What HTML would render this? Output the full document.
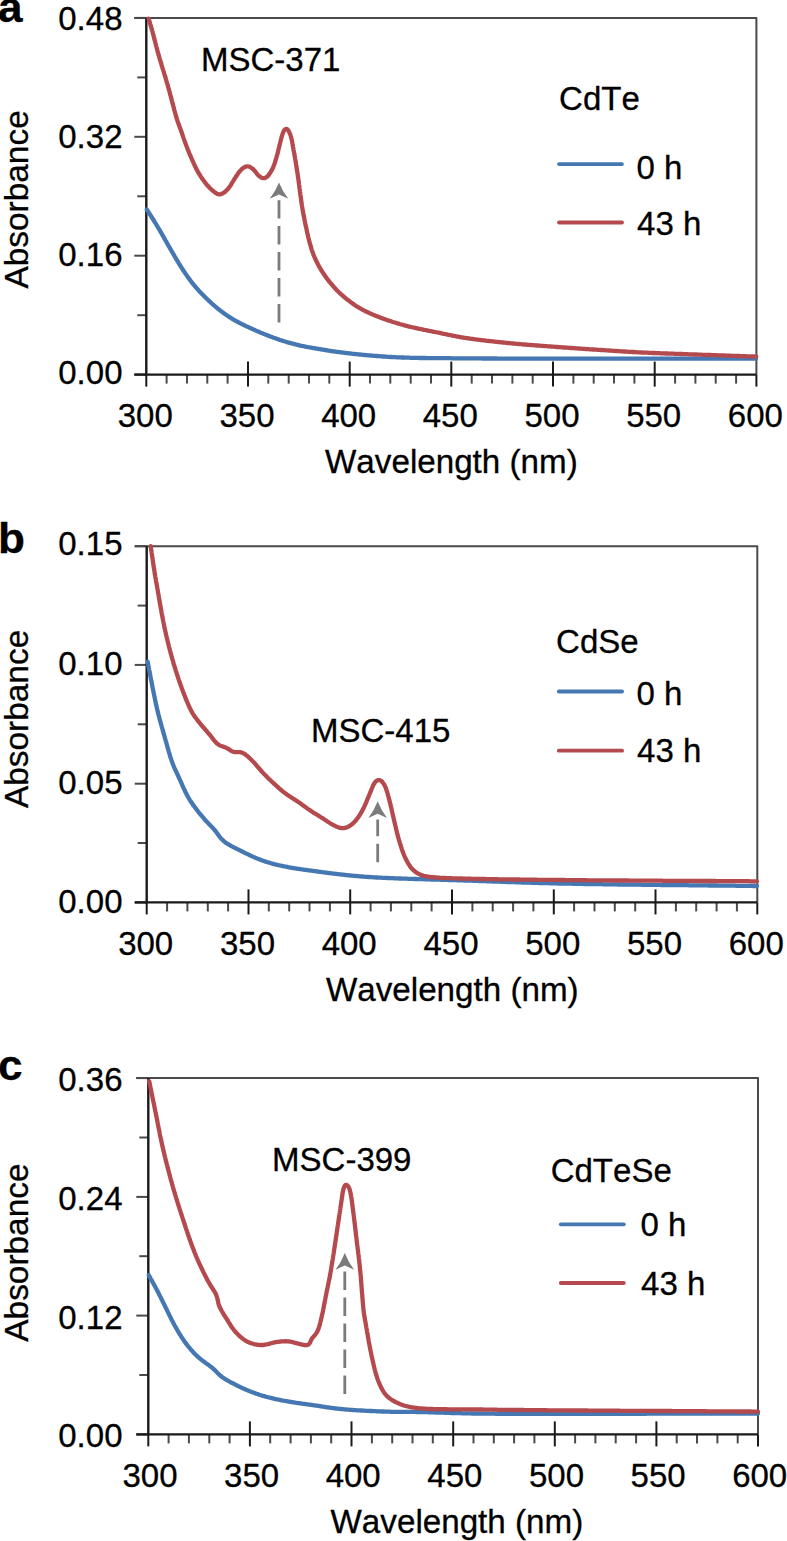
<!DOCTYPE html><html><head><meta charset="utf-8"><style>html,body{margin:0;padding:0;background:#fff;}svg{display:block;} text{stroke:#000;stroke-width:0.3px;}</style></head><body>
<svg width="787" height="1541" viewBox="0 0 787 1541">
<rect width="787" height="1541" fill="#fff"/>
<g font-family='"Liberation Sans", sans-serif' fill="#000" style="font-kerning:none">
<path d="M134.3,17.9 H756.4 V374.6" fill="none" stroke="#4a4a4a" stroke-width="2" stroke-linejoin="round"/>
<line x1="134.3" y1="17.9" x2="146.3" y2="17.9" stroke="#4a4a4a" stroke-width="2"/>
<line x1="137.3" y1="77.4" x2="146.3" y2="77.4" stroke="#4a4a4a" stroke-width="2"/>
<line x1="134.3" y1="136.8" x2="146.3" y2="136.8" stroke="#4a4a4a" stroke-width="2"/>
<line x1="137.3" y1="196.3" x2="146.3" y2="196.3" stroke="#4a4a4a" stroke-width="2"/>
<line x1="134.3" y1="255.7" x2="146.3" y2="255.7" stroke="#4a4a4a" stroke-width="2"/>
<line x1="137.3" y1="315.2" x2="146.3" y2="315.2" stroke="#4a4a4a" stroke-width="2"/>
<line x1="134.3" y1="374.6" x2="146.3" y2="374.6" stroke="#4a4a4a" stroke-width="2"/>
<line x1="146.3" y1="374.6" x2="146.3" y2="386.6" stroke="#1a1a1a" stroke-width="2"/>
<line x1="166.6" y1="374.6" x2="166.6" y2="383.6" stroke="#4a4a4a" stroke-width="2"/>
<line x1="187.0" y1="374.6" x2="187.0" y2="383.6" stroke="#4a4a4a" stroke-width="2"/>
<line x1="207.3" y1="374.6" x2="207.3" y2="383.6" stroke="#4a4a4a" stroke-width="2"/>
<line x1="227.6" y1="374.6" x2="227.6" y2="383.6" stroke="#4a4a4a" stroke-width="2"/>
<line x1="248.0" y1="361.6" x2="248.0" y2="386.6" stroke="#1a1a1a" stroke-width="2"/>
<line x1="268.3" y1="374.6" x2="268.3" y2="383.6" stroke="#4a4a4a" stroke-width="2"/>
<line x1="288.7" y1="374.6" x2="288.7" y2="383.6" stroke="#4a4a4a" stroke-width="2"/>
<line x1="309.0" y1="374.6" x2="309.0" y2="383.6" stroke="#4a4a4a" stroke-width="2"/>
<line x1="329.3" y1="374.6" x2="329.3" y2="383.6" stroke="#4a4a4a" stroke-width="2"/>
<line x1="349.7" y1="361.6" x2="349.7" y2="386.6" stroke="#1a1a1a" stroke-width="2"/>
<line x1="370.0" y1="374.6" x2="370.0" y2="383.6" stroke="#4a4a4a" stroke-width="2"/>
<line x1="390.3" y1="374.6" x2="390.3" y2="383.6" stroke="#4a4a4a" stroke-width="2"/>
<line x1="410.7" y1="374.6" x2="410.7" y2="383.6" stroke="#4a4a4a" stroke-width="2"/>
<line x1="431.0" y1="374.6" x2="431.0" y2="383.6" stroke="#4a4a4a" stroke-width="2"/>
<line x1="451.3" y1="361.6" x2="451.3" y2="386.6" stroke="#1a1a1a" stroke-width="2"/>
<line x1="471.7" y1="374.6" x2="471.7" y2="383.6" stroke="#4a4a4a" stroke-width="2"/>
<line x1="492.0" y1="374.6" x2="492.0" y2="383.6" stroke="#4a4a4a" stroke-width="2"/>
<line x1="512.4" y1="374.6" x2="512.4" y2="383.6" stroke="#4a4a4a" stroke-width="2"/>
<line x1="532.7" y1="374.6" x2="532.7" y2="383.6" stroke="#4a4a4a" stroke-width="2"/>
<line x1="553.0" y1="361.6" x2="553.0" y2="386.6" stroke="#1a1a1a" stroke-width="2"/>
<line x1="573.4" y1="374.6" x2="573.4" y2="383.6" stroke="#4a4a4a" stroke-width="2"/>
<line x1="593.7" y1="374.6" x2="593.7" y2="383.6" stroke="#4a4a4a" stroke-width="2"/>
<line x1="614.0" y1="374.6" x2="614.0" y2="383.6" stroke="#4a4a4a" stroke-width="2"/>
<line x1="634.4" y1="374.6" x2="634.4" y2="383.6" stroke="#4a4a4a" stroke-width="2"/>
<line x1="654.7" y1="361.6" x2="654.7" y2="386.6" stroke="#1a1a1a" stroke-width="2"/>
<line x1="675.1" y1="374.6" x2="675.1" y2="383.6" stroke="#4a4a4a" stroke-width="2"/>
<line x1="695.4" y1="374.6" x2="695.4" y2="383.6" stroke="#4a4a4a" stroke-width="2"/>
<line x1="715.7" y1="374.6" x2="715.7" y2="383.6" stroke="#4a4a4a" stroke-width="2"/>
<line x1="736.1" y1="374.6" x2="736.1" y2="383.6" stroke="#4a4a4a" stroke-width="2"/>
<line x1="756.4" y1="374.6" x2="756.4" y2="386.6" stroke="#1a1a1a" stroke-width="2"/>
<path d="M146.3,17.9 V374.6 H756.4" fill="none" stroke="#1a1a1a" stroke-width="2.4"/>
<line x1="134.3" y1="374.6" x2="146.3" y2="374.6" stroke="#1a1a1a" stroke-width="2.4"/>
<text x="122.5" y="29.9" font-size="33" text-anchor="end">0.48</text>
<text x="122.5" y="147.6" font-size="33" text-anchor="end">0.32</text>
<text x="122.5" y="265.9" font-size="33" text-anchor="end">0.16</text>
<text x="122.5" y="383.8" font-size="33" text-anchor="end">0.00</text>
<text x="145.3" y="427.1" font-size="33" text-anchor="middle">300</text>
<text x="247.0" y="427.1" font-size="33" text-anchor="middle">350</text>
<text x="348.7" y="427.1" font-size="33" text-anchor="middle">400</text>
<text x="450.3" y="427.1" font-size="33" text-anchor="middle">450</text>
<text x="552.0" y="427.1" font-size="33" text-anchor="middle">500</text>
<text x="653.7" y="427.1" font-size="33" text-anchor="middle">550</text>
<text x="755.4" y="427.1" font-size="33" text-anchor="middle">600</text>
<text x="451.4" y="473.4" font-size="33.2" text-anchor="middle">Wavelength (nm)</text>
<text x="0" y="0" font-size="33.4" text-anchor="middle" transform="translate(27.9,199.4) rotate(-90)">Absorbance</text>
<text x="0" y="0" font-size="42" font-weight="bold" transform="translate(-2.0,22.3) scale(1.05,1)">a</text>
<text x="559.1" y="110.2" font-size="33">CdTe</text>
<line x1="559.0" y1="164.1" x2="622.0" y2="164.1" stroke="#4577b3" stroke-width="3.8" stroke-linecap="round"/>
<line x1="559.0" y1="222.5" x2="622.0" y2="222.5" stroke="#b54a4e" stroke-width="3.8" stroke-linecap="round"/>
<text x="636.5" y="179.0" font-size="33">0 h</text>
<text x="637.1" y="234.8" font-size="33">43 h</text>
<text x="201.0" y="70.5" font-size="33">MSC-371</text>
<line x1="279.0" y1="322.6" x2="279.0" y2="200.3" stroke="#7b7b7b" stroke-width="2.8" stroke-dasharray="18.5 7.5"/>
<path d="M279.0,182.5 Q282.6,191.7 288.3,198.8 L279.0,194.5 L269.7,198.8 Q275.4,191.7 279.0,182.5 Z" fill="#7b7b7b"/>
<path d="M146.8,209.5L148.2,211.6L148.5,212.2L148.9,212.7L149.3,213.4L149.7,214.1L150.2,214.8L150.7,215.6L151.2,216.3L151.7,217.1L152.2,218.0L152.7,218.8L153.3,219.6L153.8,220.5L154.3,221.3L154.8,222.2L155.4,223.0L155.9,223.9L156.4,224.7L156.9,225.6L157.4,226.4L157.9,227.3L158.4,228.2L159.0,229.0L159.5,229.9L160.0,230.8L160.5,231.6L161.0,232.5L161.5,233.3L162.0,234.2L162.5,235.1L163.0,235.9L163.5,236.8L164.0,237.7L164.4,238.6L164.9,239.4L165.4,240.3L165.9,241.2L166.4,242.0L166.9,242.9L167.4,243.8L167.9,244.6L168.4,245.5L168.9,246.4L169.4,247.2L169.9,248.1L170.4,249.0L170.9,249.9L171.4,250.7L171.9,251.6L172.4,252.5L172.9,253.3L173.4,254.2L173.9,255.0L174.4,255.9L174.9,256.8L175.4,257.6L175.9,258.5L176.4,259.3L176.9,260.2L177.5,261.1L178.0,261.9L178.5,262.8L179.0,263.6L179.6,264.5L180.1,265.3L180.6,266.2L181.1,267.0L181.7,267.9L182.2,268.7L182.8,269.5L183.3,270.4L183.9,271.2L184.4,272.0L185.0,272.9L185.5,273.7L186.1,274.5L186.7,275.3L187.2,276.2L187.8,277.0L188.4,277.8L189.0,278.6L189.6,279.4L190.2,280.2L190.8,281.0L191.4,281.8L192.0,282.6L192.6,283.4L193.2,284.2L193.9,284.9L194.5,285.7L195.1,286.5L195.8,287.2L196.4,288.0L197.1,288.7L197.8,289.5L198.4,290.2L199.1,291.0L199.8,291.7L200.5,292.4L201.2,293.1L201.9,293.9L202.6,294.6L203.3,295.3L204.0,296.0L204.7,296.7L205.4,297.4L206.1,298.1L206.8,298.8L207.6,299.5L208.3,300.2L209.0,300.9L209.7,301.5L210.5,302.2L211.2,302.9L211.9,303.6L212.7,304.2L213.4,304.9L214.2,305.6L214.9,306.2L215.7,306.9L216.5,307.5L217.2,308.1L218.0,308.8L218.8,309.4L219.6,310.0L220.4,310.6L221.1,311.2L221.9,311.8L222.7,312.4L223.6,313.0L224.4,313.6L225.2,314.2L226.0,314.8L226.8,315.3L227.7,315.9L228.5,316.4L229.3,317.0L230.2,317.5L231.0,318.0L231.9,318.6L232.7,319.1L233.6,319.6L234.5,320.1L235.3,320.6L236.2,321.1L237.1,321.5L238.0,322.0L238.8,322.5L239.7,323.0L240.6,323.4L241.5,323.9L242.4,324.3L243.3,324.8L244.2,325.2L245.1,325.6L246.0,326.1L246.9,326.5L247.8,326.9L248.7,327.3L249.6,327.7L250.5,328.1L251.4,328.6L252.4,329.0L253.3,329.4L254.2,329.8L255.1,330.2L256.0,330.6L256.9,331.0L257.9,331.4L258.8,331.8L259.7,332.2L260.6,332.6L261.5,333.0L262.5,333.3L263.4,333.7L264.3,334.1L265.2,334.5L266.2,334.8L267.1,335.2L268.0,335.6L268.9,335.9L269.9,336.3L270.8,336.7L271.8,337.0L272.7,337.4L273.6,337.7L274.6,338.0L275.5,338.4L276.5,338.7L277.4,339.0L278.3,339.4L279.3,339.7L280.2,340.0L281.2,340.3L282.1,340.6L283.1,340.9L284.1,341.2L285.0,341.5L286.0,341.8L286.9,342.1L287.9,342.4L288.8,342.6L289.8,342.9L290.8,343.2L291.7,343.4L292.7,343.7L293.7,343.9L294.6,344.2L295.6,344.4L296.6,344.7L297.5,344.9L298.5,345.1L299.5,345.4L300.5,345.6L301.4,345.8L302.4,346.0L303.4,346.2L304.4,346.4L305.4,346.6L306.3,346.8L307.3,347.0L308.3,347.2L309.3,347.3L310.3,347.5L311.3,347.7L312.2,347.9L313.2,348.1L314.2,348.2L315.2,348.4L316.2,348.6L317.2,348.7L318.2,348.9L319.1,349.1L320.1,349.2L321.1,349.4L322.1,349.6L323.1,349.7L324.1,349.9L325.1,350.0L326.1,350.2L327.0,350.4L328.0,350.5L329.0,350.7L330.0,350.8L331.0,351.0L332.0,351.1L333.0,351.3L334.0,351.4L334.9,351.5L335.9,351.7L336.9,351.8L337.9,352.0L338.9,352.1L339.9,352.2L340.9,352.3L341.9,352.5L342.9,352.6L343.9,352.7L344.9,352.8L345.9,353.0L346.8,353.1L347.8,353.2L348.8,353.3L349.8,353.4L350.8,353.5L351.8,353.7L352.8,353.8L353.8,353.9L354.8,354.0L355.8,354.1L356.8,354.2L357.8,354.3L358.8,354.4L359.8,354.5L360.8,354.6L361.8,354.7L362.8,354.8L363.8,354.9L364.7,355.0L365.7,355.1L366.7,355.2L367.7,355.3L368.7,355.4L369.7,355.4L370.7,355.5L371.7,355.6L372.7,355.7L373.7,355.8L374.7,355.9L375.7,355.9L376.7,356.0L377.7,356.1L378.7,356.2L379.7,356.2L380.7,356.3L381.7,356.4L382.7,356.5L383.7,356.5L384.7,356.6L385.7,356.7L386.7,356.7L387.7,356.8L388.7,356.8L389.7,356.9L390.7,357.0L391.7,357.0L392.7,357.1L393.7,357.1L394.7,357.2L395.7,357.2L396.7,357.3L397.7,357.3L398.7,357.3L399.7,357.4L400.7,357.4L401.7,357.5L402.7,357.5L403.7,357.5L404.7,357.6L405.7,357.6L406.7,357.6L407.7,357.7L408.7,357.7L409.7,357.7L410.7,357.8L411.7,357.8L412.7,357.8L413.7,357.8L414.7,357.9L415.7,357.9L416.7,357.9L417.7,357.9L418.7,357.9L419.7,358.0L420.7,358.0L421.7,358.0L422.7,358.0L423.7,358.0L424.7,358.0L425.7,358.0L426.6,358.1L427.6,358.1L428.6,358.1L429.6,358.1L430.6,358.1L431.6,358.1L432.6,358.1L433.6,358.1L434.6,358.1L435.6,358.2L436.6,358.2L437.6,358.2L438.6,358.2L439.6,358.2L440.6,358.2L441.6,358.2L442.6,358.2L443.6,358.2L444.6,358.2L445.6,358.2L446.6,358.2L447.6,358.2L448.6,358.2L449.6,358.2L450.6,358.2L451.6,358.3L452.6,358.3L453.6,358.3L454.6,358.3L455.6,358.3L456.6,358.3L457.6,358.3L458.6,358.3L459.6,358.3L460.6,358.3L461.6,358.3L462.6,358.3L463.6,358.3L464.6,358.3L465.6,358.3L466.6,358.3L467.6,358.3L468.6,358.3L469.6,358.4L470.6,358.4L471.6,358.4L472.6,358.4L473.6,358.4L474.6,358.4L475.6,358.4L476.6,358.4L477.6,358.4L478.6,358.4L479.6,358.4L480.6,358.4L481.6,358.4L482.6,358.5L483.6,358.5L484.6,358.5L485.6,358.5L486.6,358.5L487.6,358.5L488.6,358.5L489.6,358.5L490.6,358.5L491.6,358.5L492.6,358.5L493.6,358.5L494.6,358.5L495.6,358.5L496.6,358.5L497.6,358.6L498.6,358.6L499.6,358.6L500.6,358.6L501.6,358.6L502.6,358.6L503.6,358.6L504.6,358.6L505.6,358.6L506.6,358.6L507.6,358.6L508.6,358.6L509.6,358.6L510.6,358.6L511.6,358.6L512.6,358.6L513.6,358.6L514.6,358.6L515.6,358.6L516.6,358.6L517.6,358.6L518.6,358.6L519.6,358.6L520.6,358.6L521.6,358.6L522.6,358.6L523.6,358.6L524.6,358.6L525.6,358.6L526.6,358.6L527.6,358.6L528.6,358.7L529.6,358.7L530.6,358.7L531.6,358.7L532.6,358.7L533.6,358.7L534.6,358.7L535.6,358.7L536.6,358.7L537.6,358.7L538.6,358.7L539.6,358.7L540.6,358.7L541.6,358.7L542.6,358.7L543.6,358.7L544.6,358.7L545.6,358.7L546.6,358.7L547.6,358.7L548.6,358.7L549.6,358.7L550.6,358.7L551.6,358.7L552.6,358.7L553.6,358.7L554.6,358.7L555.6,358.7L556.6,358.7L557.6,358.7L558.6,358.7L559.6,358.7L560.6,358.7L561.6,358.7L562.6,358.7L563.6,358.7L564.6,358.7L565.6,358.7L566.6,358.7L567.6,358.7L568.6,358.7L569.6,358.7L570.6,358.7L571.6,358.7L572.6,358.7L573.6,358.7L574.6,358.7L575.6,358.7L576.6,358.7L577.6,358.7L578.6,358.7L579.6,358.7L580.6,358.7L581.6,358.7L582.6,358.7L583.6,358.7L584.6,358.7L585.6,358.7L586.6,358.7L587.6,358.7L588.6,358.7L589.6,358.7L590.6,358.7L591.6,358.7L592.6,358.7L593.6,358.7L594.6,358.7L595.6,358.7L596.6,358.7L597.6,358.7L598.6,358.7L599.6,358.7L600.6,358.7L601.6,358.7L602.6,358.7L603.6,358.7L604.6,358.7L605.6,358.7L606.6,358.7L607.6,358.7L608.6,358.7L609.6,358.7L610.6,358.7L611.6,358.7L612.6,358.7L613.6,358.7L614.6,358.7L615.6,358.7L616.6,358.7L617.6,358.7L618.6,358.7L619.6,358.7L620.6,358.7L621.6,358.7L622.6,358.7L623.6,358.7L624.6,358.7L625.6,358.7L626.6,358.7L627.6,358.7L628.6,358.7L629.6,358.7L630.6,358.7L631.6,358.7L632.6,358.7L633.6,358.7L634.6,358.7L635.6,358.7L636.6,358.7L637.6,358.7L638.6,358.7L639.6,358.7L640.6,358.7L641.6,358.7L642.6,358.7L643.6,358.7L644.6,358.7L645.6,358.7L646.6,358.7L647.6,358.7L648.6,358.7L649.6,358.7L650.6,358.7L651.6,358.7L652.6,358.7L653.6,358.7L654.6,358.7L655.6,358.7L656.6,358.7L657.6,358.7L658.6,358.7L659.6,358.7L660.6,358.7L661.6,358.7L662.6,358.7L663.6,358.7L664.6,358.7L665.6,358.7L666.6,358.7L667.6,358.7L668.6,358.7L669.6,358.7L670.6,358.7L671.6,358.7L672.6,358.7L673.6,358.7L674.6,358.7L675.6,358.7L676.6,358.7L677.6,358.7L678.6,358.7L679.6,358.7L680.6,358.7L681.6,358.7L682.6,358.7L683.6,358.7L684.6,358.7L685.6,358.7L686.6,358.7L687.6,358.7L688.6,358.7L689.6,358.7L690.6,358.7L691.6,358.7L692.6,358.7L693.6,358.7L694.6,358.7L695.6,358.7L696.6,358.7L697.6,358.7L698.6,358.7L699.6,358.7L700.6,358.7L701.6,358.7L702.6,358.7L703.6,358.7L704.6,358.7L705.6,358.7L706.6,358.7L707.6,358.7L708.6,358.7L709.6,358.7L710.6,358.7L711.6,358.7L712.6,358.7L713.6,358.7L714.6,358.7L715.6,358.7L716.6,358.7L717.6,358.7L718.6,358.7L719.6,358.7L720.6,358.7L721.6,358.7L722.6,358.7L723.6,358.7L724.6,358.7L725.6,358.7L726.6,358.7L727.6,358.7L728.6,358.7L729.6,358.7L730.6,358.7L731.6,358.7L732.6,358.7L733.6,358.7L734.6,358.7L735.6,358.7L736.6,358.7L737.6,358.7L738.6,358.7L739.6,358.7L740.6,358.7L741.6,358.7L742.6,358.7L743.6,358.7L744.6,358.7L745.6,358.7L746.6,358.7L747.5,358.7L748.5,358.7L749.4,358.7L750.2,358.7L751.0,358.7L751.8,358.7L752.5,358.7L753.1,358.7L756.0,358.7" fill="none" stroke="#4577b3" stroke-width="4.3" stroke-linejoin="round" stroke-linecap="round"/>
<path d="M148.6,18.6L149.0,19.9L149.2,20.7L149.5,21.5L149.8,22.4L150.1,23.4L150.3,24.3L150.6,25.3L150.9,26.3L151.2,27.2L151.5,28.2L151.7,29.1L152.0,30.1L152.3,31.1L152.6,32.0L152.8,33.0L153.1,34.0L153.3,34.9L153.6,35.9L153.8,36.9L154.1,37.8L154.3,38.8L154.6,39.8L154.8,40.7L155.1,41.7L155.3,42.7L155.6,43.6L155.8,44.6L156.1,45.6L156.3,46.5L156.6,47.5L156.8,48.5L157.1,49.4L157.3,50.4L157.6,51.4L157.9,52.3L158.1,53.3L158.4,54.3L158.7,55.2L159.0,56.2L159.2,57.2L159.5,58.1L159.8,59.1L160.1,60.0L160.4,61.0L160.7,61.9L161.0,62.9L161.3,63.9L161.5,64.8L161.8,65.8L162.1,66.7L162.4,67.7L162.7,68.6L163.0,69.6L163.3,70.5L163.6,71.5L163.9,72.5L164.2,73.4L164.5,74.4L164.8,75.3L165.1,76.3L165.4,77.2L165.6,78.2L165.9,79.2L166.2,80.1L166.5,81.1L166.8,82.0L167.0,83.0L167.3,84.0L167.6,84.9L167.9,85.9L168.1,86.9L168.4,87.8L168.7,88.8L168.9,89.7L169.2,90.7L169.5,91.7L169.7,92.6L170.0,93.6L170.2,94.6L170.5,95.5L170.8,96.5L171.0,97.5L171.3,98.4L171.5,99.4L171.8,100.4L172.0,101.3L172.3,102.3L172.5,103.3L172.8,104.2L173.1,105.2L173.3,106.2L173.6,107.1L173.8,108.1L174.1,109.1L174.3,110.0L174.6,111.0L174.9,112.0L175.1,112.9L175.4,113.9L175.7,114.8L176.0,115.8L176.2,116.8L176.5,117.7L176.8,118.7L177.1,119.6L177.4,120.6L177.7,121.5L178.0,122.5L178.4,123.4L178.7,124.4L179.1,125.3L179.4,126.2L179.8,127.2L180.1,128.1L180.5,129.1L180.8,130.0L181.1,130.9L181.5,131.9L181.8,132.8L182.1,133.8L182.4,134.7L182.8,135.7L183.1,136.6L183.4,137.6L183.7,138.5L184.1,139.5L184.4,140.4L184.7,141.3L185.1,142.3L185.4,143.2L185.8,144.2L186.1,145.1L186.5,146.0L186.8,147.0L187.2,147.9L187.5,148.8L187.9,149.8L188.3,150.7L188.7,151.6L189.0,152.5L189.4,153.5L189.8,154.4L190.2,155.3L190.6,156.2L191.0,157.1L191.4,158.1L191.8,159.0L192.2,159.9L192.6,160.8L193.0,161.7L193.4,162.6L193.8,163.5L194.2,164.5L194.6,165.4L195.1,166.3L195.5,167.2L195.9,168.1L196.4,169.0L196.9,169.8L197.3,170.7L197.8,171.6L198.3,172.5L198.8,173.3L199.3,174.2L199.8,175.0L200.4,175.9L200.9,176.7L201.5,177.6L202.0,178.4L202.6,179.2L203.2,180.0L203.8,180.8L204.4,181.6L205.0,182.4L205.6,183.2L206.2,184.0L206.9,184.8L207.5,185.5L208.2,186.3L208.9,187.0L209.6,187.7L210.3,188.4L211.0,189.1L211.8,189.8L212.5,190.4L213.3,191.1L214.0,191.7L214.8,192.3L215.6,192.9L216.4,193.4L217.3,193.9L218.2,194.2L219.1,194.4L220.0,194.3L221.0,194.1L221.9,193.8L222.7,193.4L223.6,192.9L224.4,192.3L225.2,191.7L225.9,191.0L226.6,190.3L227.3,189.6L228.0,188.9L228.6,188.1L229.2,187.3L229.8,186.5L230.4,185.7L230.9,184.8L231.4,184.0L231.9,183.1L232.4,182.3L233.0,181.4L233.5,180.6L234.0,179.7L234.5,178.9L235.1,178.0L235.6,177.2L236.2,176.3L236.7,175.5L237.3,174.7L237.8,173.8L238.4,173.0L239.0,172.2L239.6,171.4L240.3,170.7L241.0,170.0L241.7,169.3L242.4,168.6L243.2,168.0L244.0,167.4L244.9,167.0L245.7,166.6L246.7,166.4L247.6,166.3L248.5,166.5L249.4,166.7L250.3,167.1L251.1,167.7L251.9,168.2L252.7,168.9L253.4,169.5L254.1,170.2L254.8,171.0L255.4,171.7L256.0,172.5L256.6,173.3L257.2,174.1L257.9,174.9L258.6,175.6L259.3,176.2L260.1,176.8L260.9,177.3L261.8,177.8L262.7,178.1L263.6,178.2L264.5,178.1L265.4,177.8L266.2,177.4L267.0,176.8L267.7,176.2L268.3,175.4L268.9,174.6L269.5,173.8L270.1,173.0L270.6,172.2L271.1,171.3L271.6,170.4L272.1,169.6L272.5,168.7L273.0,167.8L273.3,166.8L273.7,165.9L274.1,165.0L274.4,164.0L274.7,163.1L275.0,162.1L275.3,161.2L275.6,160.2L275.9,159.3L276.2,158.3L276.5,157.4L276.7,156.4L277.0,155.4L277.3,154.5L277.6,153.5L277.8,152.5L278.0,151.6L278.3,150.6L278.5,149.6L278.7,148.6L279.0,147.7L279.2,146.7L279.4,145.7L279.7,144.8L279.9,143.8L280.1,142.8L280.4,141.8L280.6,140.9L280.9,139.9L281.1,138.9L281.4,138.0L281.6,137.0L281.9,136.0L282.2,135.1L282.5,134.1L282.8,133.2L283.2,132.3L283.6,131.4L284.1,130.5L284.6,129.8L285.2,129.3L285.9,129.0L286.6,129.0L287.3,129.3L287.9,129.9L288.4,130.6L288.9,131.5L289.3,132.4L289.7,133.3L290.1,134.2L290.5,135.1L290.8,136.1L291.1,137.0L291.3,138.0L291.6,139.0L291.8,139.9L292.0,140.9L292.2,141.9L292.3,142.9L292.5,143.9L292.7,144.9L292.9,145.8L293.0,146.8L293.2,147.8L293.4,148.8L293.5,149.8L293.7,150.8L293.9,151.8L294.1,152.7L294.3,153.7L294.4,154.7L294.6,155.7L294.8,156.7L295.0,157.7L295.1,158.6L295.3,159.6L295.5,160.6L295.6,161.6L295.8,162.6L295.9,163.6L296.1,164.6L296.3,165.6L296.4,166.5L296.6,167.5L296.7,168.5L296.9,169.5L297.0,170.5L297.2,171.5L297.4,172.5L297.5,173.5L297.7,174.4L297.8,175.4L297.9,176.4L298.1,177.4L298.2,178.4L298.4,179.4L298.5,180.4L298.6,181.4L298.8,182.4L298.9,183.4L299.0,184.3L299.2,185.3L299.3,186.3L299.4,187.3L299.5,188.3L299.7,189.3L299.8,190.3L299.9,191.3L300.1,192.3L300.2,193.3L300.3,194.3L300.5,195.3L300.6,196.2L300.7,197.2L300.9,198.2L301.0,199.2L301.1,200.2L301.3,201.2L301.4,202.2L301.6,203.2L301.7,204.2L301.9,205.2L302.0,206.1L302.2,207.1L302.4,208.1L302.5,209.1L302.7,210.1L302.9,211.1L303.1,212.1L303.2,213.0L303.4,214.0L303.6,215.0L303.8,216.0L304.0,217.0L304.2,218.0L304.4,218.9L304.5,219.9L304.7,220.9L304.9,221.9L305.1,222.9L305.3,223.8L305.5,224.8L305.7,225.8L306.0,226.8L306.2,227.7L306.4,228.7L306.6,229.7L306.8,230.7L307.0,231.7L307.2,232.6L307.4,233.6L307.7,234.6L307.9,235.6L308.1,236.5L308.3,237.5L308.6,238.5L308.8,239.4L309.1,240.4L309.3,241.4L309.6,242.3L309.9,243.3L310.1,244.3L310.4,245.2L310.7,246.2L311.0,247.2L311.2,248.1L311.5,249.1L311.8,250.0L312.2,251.0L312.5,251.9L312.8,252.9L313.2,253.8L313.5,254.7L313.9,255.7L314.3,256.6L314.7,257.5L315.1,258.4L315.5,259.3L315.9,260.2L316.3,261.1L316.8,262.0L317.2,262.9L317.7,263.8L318.1,264.7L318.6,265.6L319.1,266.5L319.6,267.3L320.1,268.2L320.6,269.1L321.1,269.9L321.6,270.8L322.2,271.6L322.7,272.4L323.3,273.3L323.8,274.1L324.4,274.9L325.0,275.8L325.5,276.6L326.1,277.4L326.7,278.2L327.3,279.0L327.9,279.8L328.5,280.6L329.1,281.4L329.8,282.1L330.4,282.9L331.0,283.7L331.7,284.5L332.3,285.2L333.0,286.0L333.6,286.7L334.3,287.5L335.0,288.2L335.7,289.0L336.3,289.7L337.0,290.4L337.7,291.1L338.4,291.8L339.2,292.5L339.9,293.2L340.6,293.9L341.4,294.6L342.1,295.2L342.9,295.9L343.6,296.5L344.4,297.2L345.1,297.8L345.9,298.5L346.7,299.1L347.5,299.7L348.3,300.3L349.1,300.9L349.9,301.5L350.7,302.1L351.5,302.7L352.3,303.3L353.1,303.9L353.9,304.4L354.7,305.0L355.6,305.6L356.4,306.1L357.3,306.6L358.1,307.2L359.0,307.7L359.8,308.2L360.7,308.7L361.6,309.2L362.5,309.6L363.3,310.1L364.2,310.6L365.1,311.0L366.0,311.5L366.9,311.9L367.8,312.3L368.7,312.7L369.6,313.2L370.6,313.6L371.5,314.0L372.4,314.4L373.3,314.8L374.2,315.1L375.1,315.5L376.1,315.9L377.0,316.3L377.9,316.6L378.9,317.0L379.8,317.4L380.7,317.7L381.7,318.1L382.6,318.4L383.5,318.8L384.5,319.1L385.4,319.4L386.4,319.8L387.3,320.1L388.3,320.4L389.2,320.7L390.2,321.0L391.1,321.3L392.1,321.7L393.0,322.0L394.0,322.3L394.9,322.5L395.9,322.8L396.8,323.1L397.8,323.4L398.8,323.7L399.7,324.0L400.7,324.3L401.6,324.5L402.6,324.8L403.6,325.1L404.5,325.3L405.5,325.6L406.5,325.8L407.4,326.1L408.4,326.3L409.4,326.6L410.3,326.8L411.3,327.0L412.3,327.3L413.3,327.5L414.2,327.7L415.2,327.9L416.2,328.2L417.2,328.4L418.2,328.6L419.1,328.8L420.1,329.0L421.1,329.2L422.1,329.4L423.0,329.6L424.0,329.8L425.0,330.0L426.0,330.2L427.0,330.4L427.9,330.6L428.9,330.8L429.9,331.0L430.9,331.2L431.9,331.4L432.9,331.6L433.8,331.8L434.8,332.0L435.8,332.2L436.8,332.3L437.8,332.5L438.7,332.7L439.7,332.9L440.7,333.1L441.7,333.3L442.7,333.6L443.6,333.8L444.6,334.0L445.6,334.2L446.6,334.4L447.5,334.6L448.5,334.8L449.5,335.0L450.5,335.2L451.5,335.4L452.4,335.6L453.4,335.8L454.4,336.0L455.4,336.2L456.4,336.4L457.3,336.6L458.3,336.7L459.3,336.9L460.3,337.1L461.3,337.3L462.3,337.4L463.3,337.6L464.2,337.8L465.2,337.9L466.2,338.1L467.2,338.2L468.2,338.4L469.2,338.5L470.2,338.6L471.2,338.8L472.2,338.9L473.1,339.0L474.1,339.2L475.1,339.3L476.1,339.4L477.1,339.6L478.1,339.7L479.1,339.8L480.1,339.9L481.1,340.1L482.1,340.2L483.1,340.3L484.1,340.4L485.1,340.5L486.0,340.7L487.0,340.8L488.0,340.9L489.0,341.0L490.0,341.1L491.0,341.2L492.0,341.3L493.0,341.4L494.0,341.5L495.0,341.7L496.0,341.8L497.0,341.9L498.0,342.0L499.0,342.1L500.0,342.2L501.0,342.3L502.0,342.4L502.9,342.5L503.9,342.6L504.9,342.7L505.9,342.8L506.9,342.9L507.9,343.0L508.9,343.1L509.9,343.2L510.9,343.3L511.9,343.4L512.9,343.5L513.9,343.6L514.9,343.7L515.9,343.8L516.9,343.9L517.9,343.9L518.9,344.0L519.9,344.1L520.9,344.2L521.9,344.3L522.9,344.4L523.9,344.5L524.9,344.5L525.9,344.6L526.8,344.7L527.8,344.8L528.8,344.9L529.8,344.9L530.8,345.0L531.8,345.1L532.8,345.2L533.8,345.2L534.8,345.3L535.8,345.4L536.8,345.5L537.8,345.5L538.8,345.6L539.8,345.7L540.8,345.8L541.8,345.8L542.8,345.9L543.8,346.0L544.8,346.1L545.8,346.1L546.8,346.2L547.8,346.3L548.8,346.4L549.8,346.4L550.8,346.5L551.8,346.6L552.8,346.7L553.8,346.7L554.8,346.8L555.8,346.9L556.8,347.0L557.8,347.0L558.8,347.1L559.8,347.2L560.8,347.2L561.7,347.3L562.7,347.4L563.7,347.5L564.7,347.5L565.7,347.6L566.7,347.7L567.7,347.7L568.7,347.8L569.7,347.9L570.7,348.0L571.7,348.0L572.7,348.1L573.7,348.2L574.7,348.2L575.7,348.3L576.7,348.4L577.7,348.4L578.7,348.5L579.7,348.6L580.7,348.7L581.7,348.7L582.7,348.8L583.7,348.9L584.7,348.9L585.7,349.0L586.7,349.1L587.7,349.1L588.7,349.2L589.7,349.3L590.7,349.3L591.7,349.4L592.7,349.5L593.7,349.5L594.7,349.6L595.7,349.7L596.7,349.7L597.7,349.8L598.7,349.8L599.7,349.9L600.7,350.0L601.7,350.0L602.7,350.1L603.7,350.2L604.6,350.2L605.6,350.3L606.6,350.4L607.6,350.4L608.6,350.5L609.6,350.6L610.6,350.6L611.6,350.7L612.6,350.8L613.6,350.8L614.6,350.9L615.6,351.0L616.6,351.0L617.6,351.1L618.6,351.1L619.6,351.2L620.6,351.3L621.6,351.3L622.6,351.4L623.6,351.5L624.6,351.5L625.6,351.6L626.6,351.6L627.6,351.7L628.6,351.8L629.6,351.8L630.6,351.9L631.6,351.9L632.6,352.0L633.6,352.0L634.6,352.1L635.6,352.1L636.6,352.2L637.6,352.3L638.6,352.3L639.6,352.4L640.6,352.4L641.6,352.5L642.6,352.5L643.6,352.6L644.6,352.6L645.6,352.7L646.6,352.7L647.6,352.7L648.6,352.8L649.6,352.8L650.6,352.9L651.6,352.9L652.6,353.0L653.6,353.0L654.6,353.0L655.6,353.1L656.6,353.1L657.6,353.2L658.6,353.2L659.6,353.2L660.6,353.3L661.6,353.3L662.6,353.4L663.6,353.4L664.6,353.4L665.6,353.5L666.6,353.5L667.6,353.5L668.6,353.6L669.6,353.6L670.6,353.6L671.6,353.7L672.6,353.7L673.6,353.7L674.6,353.8L675.6,353.8L676.6,353.8L677.6,353.9L678.6,353.9L679.6,353.9L680.6,354.0L681.6,354.0L682.6,354.0L683.5,354.1L684.5,354.1L685.5,354.2L686.5,354.2L687.5,354.2L688.5,354.3L689.5,354.3L690.5,354.3L691.5,354.4L692.5,354.4L693.5,354.4L694.5,354.5L695.5,354.5L696.5,354.5L697.5,354.6L698.5,354.6L699.5,354.7L700.5,354.7L701.5,354.7L702.5,354.8L703.5,354.8L704.5,354.8L705.5,354.9L706.5,354.9L707.5,354.9L708.5,355.0L709.5,355.0L710.5,355.0L711.5,355.1L712.5,355.1L713.5,355.1L714.5,355.2L715.5,355.2L716.5,355.2L717.5,355.3L718.5,355.3L719.5,355.3L720.5,355.4L721.5,355.4L722.5,355.4L723.5,355.5L724.5,355.5L725.5,355.6L726.5,355.6L727.5,355.6L728.5,355.7L729.5,355.7L730.5,355.7L731.5,355.8L732.5,355.8L733.5,355.8L734.5,355.9L735.5,355.9L736.5,355.9L737.5,356.0L738.5,356.0L739.5,356.0L740.5,356.1L741.5,356.1L742.5,356.1L743.5,356.2L744.5,356.2L745.5,356.2L746.5,356.3L747.5,356.3L748.5,356.3L749.5,356.4L750.5,356.4L751.5,356.4L752.5,356.5L753.4,356.5L754.2,356.5L754.9,356.6L756.2,356.6" fill="none" stroke="#b54a4e" stroke-width="4.3" stroke-linejoin="round" stroke-linecap="round"/>
<path d="M134.7,546.2 H757.3 V902.4" fill="none" stroke="#4a4a4a" stroke-width="2" stroke-linejoin="round"/>
<line x1="134.7" y1="546.2" x2="146.7" y2="546.2" stroke="#4a4a4a" stroke-width="2"/>
<line x1="137.7" y1="605.6" x2="146.7" y2="605.6" stroke="#4a4a4a" stroke-width="2"/>
<line x1="134.7" y1="664.9" x2="146.7" y2="664.9" stroke="#4a4a4a" stroke-width="2"/>
<line x1="137.7" y1="724.3" x2="146.7" y2="724.3" stroke="#4a4a4a" stroke-width="2"/>
<line x1="134.7" y1="783.7" x2="146.7" y2="783.7" stroke="#4a4a4a" stroke-width="2"/>
<line x1="137.7" y1="843.0" x2="146.7" y2="843.0" stroke="#4a4a4a" stroke-width="2"/>
<line x1="134.7" y1="902.4" x2="146.7" y2="902.4" stroke="#4a4a4a" stroke-width="2"/>
<line x1="146.7" y1="902.4" x2="146.7" y2="914.4" stroke="#1a1a1a" stroke-width="2"/>
<line x1="167.1" y1="902.4" x2="167.1" y2="911.4" stroke="#4a4a4a" stroke-width="2"/>
<line x1="187.4" y1="902.4" x2="187.4" y2="911.4" stroke="#4a4a4a" stroke-width="2"/>
<line x1="207.8" y1="902.4" x2="207.8" y2="911.4" stroke="#4a4a4a" stroke-width="2"/>
<line x1="228.1" y1="902.4" x2="228.1" y2="911.4" stroke="#4a4a4a" stroke-width="2"/>
<line x1="248.5" y1="889.4" x2="248.5" y2="914.4" stroke="#1a1a1a" stroke-width="2"/>
<line x1="268.8" y1="902.4" x2="268.8" y2="911.4" stroke="#4a4a4a" stroke-width="2"/>
<line x1="289.2" y1="902.4" x2="289.2" y2="911.4" stroke="#4a4a4a" stroke-width="2"/>
<line x1="309.5" y1="902.4" x2="309.5" y2="911.4" stroke="#4a4a4a" stroke-width="2"/>
<line x1="329.9" y1="902.4" x2="329.9" y2="911.4" stroke="#4a4a4a" stroke-width="2"/>
<line x1="350.2" y1="889.4" x2="350.2" y2="914.4" stroke="#1a1a1a" stroke-width="2"/>
<line x1="370.6" y1="902.4" x2="370.6" y2="911.4" stroke="#4a4a4a" stroke-width="2"/>
<line x1="390.9" y1="902.4" x2="390.9" y2="911.4" stroke="#4a4a4a" stroke-width="2"/>
<line x1="411.3" y1="902.4" x2="411.3" y2="911.4" stroke="#4a4a4a" stroke-width="2"/>
<line x1="431.6" y1="902.4" x2="431.6" y2="911.4" stroke="#4a4a4a" stroke-width="2"/>
<line x1="452.0" y1="889.4" x2="452.0" y2="914.4" stroke="#1a1a1a" stroke-width="2"/>
<line x1="472.4" y1="902.4" x2="472.4" y2="911.4" stroke="#4a4a4a" stroke-width="2"/>
<line x1="492.7" y1="902.4" x2="492.7" y2="911.4" stroke="#4a4a4a" stroke-width="2"/>
<line x1="513.1" y1="902.4" x2="513.1" y2="911.4" stroke="#4a4a4a" stroke-width="2"/>
<line x1="533.4" y1="902.4" x2="533.4" y2="911.4" stroke="#4a4a4a" stroke-width="2"/>
<line x1="553.8" y1="889.4" x2="553.8" y2="914.4" stroke="#1a1a1a" stroke-width="2"/>
<line x1="574.1" y1="902.4" x2="574.1" y2="911.4" stroke="#4a4a4a" stroke-width="2"/>
<line x1="594.5" y1="902.4" x2="594.5" y2="911.4" stroke="#4a4a4a" stroke-width="2"/>
<line x1="614.8" y1="902.4" x2="614.8" y2="911.4" stroke="#4a4a4a" stroke-width="2"/>
<line x1="635.2" y1="902.4" x2="635.2" y2="911.4" stroke="#4a4a4a" stroke-width="2"/>
<line x1="655.5" y1="889.4" x2="655.5" y2="914.4" stroke="#1a1a1a" stroke-width="2"/>
<line x1="675.9" y1="902.4" x2="675.9" y2="911.4" stroke="#4a4a4a" stroke-width="2"/>
<line x1="696.2" y1="902.4" x2="696.2" y2="911.4" stroke="#4a4a4a" stroke-width="2"/>
<line x1="716.6" y1="902.4" x2="716.6" y2="911.4" stroke="#4a4a4a" stroke-width="2"/>
<line x1="736.9" y1="902.4" x2="736.9" y2="911.4" stroke="#4a4a4a" stroke-width="2"/>
<line x1="757.3" y1="902.4" x2="757.3" y2="914.4" stroke="#1a1a1a" stroke-width="2"/>
<path d="M146.7,546.2 V902.4 H757.3" fill="none" stroke="#1a1a1a" stroke-width="2.4"/>
<line x1="134.7" y1="902.4" x2="146.7" y2="902.4" stroke="#1a1a1a" stroke-width="2.4"/>
<text x="122.5" y="555.4" font-size="33" text-anchor="end">0.15</text>
<text x="122.5" y="675.2" font-size="33" text-anchor="end">0.10</text>
<text x="122.5" y="794.2" font-size="33" text-anchor="end">0.05</text>
<text x="122.5" y="913.2" font-size="33" text-anchor="end">0.00</text>
<text x="145.7" y="954.9" font-size="33" text-anchor="middle">300</text>
<text x="247.5" y="954.9" font-size="33" text-anchor="middle">350</text>
<text x="349.2" y="954.9" font-size="33" text-anchor="middle">400</text>
<text x="451.0" y="954.9" font-size="33" text-anchor="middle">450</text>
<text x="552.8" y="954.9" font-size="33" text-anchor="middle">500</text>
<text x="654.5" y="954.9" font-size="33" text-anchor="middle">550</text>
<text x="756.3" y="954.9" font-size="33" text-anchor="middle">600</text>
<text x="452.3" y="1001.2" font-size="33.2" text-anchor="middle">Wavelength (nm)</text>
<text x="0" y="0" font-size="33.4" text-anchor="middle" transform="translate(27.9,718.9) rotate(-90)">Absorbance</text>
<text x="0" y="0" font-size="42" font-weight="bold" transform="translate(-2.0,552.9) scale(1.05,1)">b</text>
<text x="556.1" y="653.2" font-size="33">CdSe</text>
<line x1="558.8" y1="691.5" x2="622.1" y2="691.5" stroke="#4577b3" stroke-width="3.8" stroke-linecap="round"/>
<line x1="558.8" y1="750.7" x2="622.1" y2="750.7" stroke="#b54a4e" stroke-width="3.8" stroke-linecap="round"/>
<text x="636.5" y="705.0" font-size="33">0 h</text>
<text x="637.1" y="761.7" font-size="33">43 h</text>
<text x="311.0" y="742.2" font-size="33">MSC-415</text>
<line x1="377.7" y1="862.2" x2="377.7" y2="819.5" stroke="#7b7b7b" stroke-width="2.8" stroke-dasharray="18.5 7.5"/>
<path d="M377.7,801.3 Q381.3,810.6 387.0,818.0 L377.7,813.7 L368.4,818.0 Q374.1,810.6 377.7,801.3 Z" fill="#7b7b7b"/>
<path d="M147.6,661.6L148.1,664.1L148.2,664.7L148.3,665.4L148.5,666.1L148.6,666.9L148.8,667.8L149.0,668.7L149.1,669.6L149.3,670.5L149.5,671.5L149.7,672.4L149.9,673.4L150.1,674.4L150.2,675.4L150.4,676.3L150.6,677.3L150.8,678.3L151.0,679.3L151.2,680.3L151.4,681.2L151.6,682.2L151.8,683.2L152.0,684.2L152.1,685.2L152.3,686.1L152.5,687.1L152.7,688.1L152.9,689.1L153.1,690.1L153.3,691.1L153.5,692.0L153.7,693.0L153.9,694.0L154.1,695.0L154.3,696.0L154.5,696.9L154.7,697.9L154.9,698.9L155.1,699.9L155.3,700.9L155.5,701.8L155.7,702.8L155.9,703.8L156.1,704.8L156.4,705.7L156.6,706.7L156.8,707.7L157.0,708.7L157.3,709.6L157.5,710.6L157.7,711.6L158.0,712.6L158.2,713.5L158.4,714.5L158.7,715.5L158.9,716.4L159.2,717.4L159.5,718.4L159.7,719.3L160.0,720.3L160.2,721.3L160.5,722.2L160.8,723.2L161.0,724.2L161.3,725.1L161.6,726.1L161.8,727.0L162.1,728.0L162.4,729.0L162.6,729.9L162.9,730.9L163.2,731.9L163.5,732.8L163.7,733.8L164.0,734.7L164.3,735.7L164.6,736.7L164.8,737.6L165.1,738.6L165.4,739.5L165.6,740.5L165.9,741.5L166.2,742.4L166.5,743.4L166.7,744.4L167.0,745.3L167.3,746.3L167.5,747.3L167.8,748.2L168.1,749.2L168.3,750.1L168.6,751.1L168.9,752.1L169.2,753.0L169.5,754.0L169.8,754.9L170.0,755.9L170.3,756.8L170.6,757.8L171.0,758.7L171.3,759.7L171.6,760.6L171.9,761.6L172.3,762.5L172.6,763.5L173.0,764.4L173.4,765.3L173.7,766.2L174.1,767.2L174.5,768.1L174.9,769.0L175.3,769.9L175.8,770.8L176.2,771.7L176.6,772.6L177.0,773.5L177.4,774.4L177.9,775.3L178.3,776.2L178.7,777.2L179.1,778.1L179.6,779.0L180.0,779.9L180.4,780.8L180.8,781.7L181.2,782.6L181.6,783.5L182.0,784.4L182.4,785.4L182.8,786.3L183.2,787.2L183.6,788.1L184.0,789.0L184.5,789.9L184.9,790.8L185.3,791.7L185.7,792.6L186.2,793.5L186.7,794.4L187.1,795.3L187.6,796.2L188.1,797.0L188.6,797.9L189.1,798.7L189.6,799.6L190.1,800.4L190.7,801.3L191.2,802.1L191.8,802.9L192.4,803.8L192.9,804.6L193.5,805.4L194.1,806.2L194.7,807.0L195.3,807.8L195.9,808.6L196.5,809.4L197.1,810.2L197.7,811.0L198.3,811.8L198.9,812.6L199.6,813.4L200.2,814.1L200.8,814.9L201.5,815.7L202.1,816.4L202.8,817.2L203.4,817.9L204.1,818.7L204.7,819.4L205.4,820.2L206.1,820.9L206.8,821.7L207.4,822.4L208.1,823.1L208.8,823.8L209.5,824.6L210.2,825.3L210.9,826.0L211.6,826.7L212.3,827.4L213.0,828.2L213.6,828.9L214.3,829.6L214.9,830.4L215.5,831.2L216.1,831.9L216.7,832.7L217.3,833.5L217.9,834.3L218.4,835.1L219.0,835.9L219.6,836.7L220.2,837.5L220.8,838.2L221.5,838.9L222.2,839.6L222.9,840.3L223.6,841.0L224.4,841.6L225.1,842.2L225.9,842.8L226.8,843.3L227.6,843.9L228.4,844.4L229.3,844.9L230.2,845.4L231.0,845.9L231.9,846.4L232.8,846.8L233.7,847.3L234.6,847.7L235.5,848.2L236.4,848.6L237.3,849.1L238.2,849.5L239.1,849.9L239.9,850.4L240.8,850.8L241.7,851.3L242.6,851.7L243.5,852.2L244.4,852.6L245.3,853.1L246.2,853.5L247.1,853.9L248.0,854.4L248.9,854.8L249.8,855.2L250.7,855.7L251.6,856.1L252.5,856.5L253.4,856.9L254.4,857.3L255.3,857.7L256.2,858.1L257.1,858.5L258.1,858.8L259.0,859.2L259.9,859.6L260.8,859.9L261.8,860.3L262.7,860.6L263.7,860.9L264.6,861.3L265.6,861.6L266.5,861.9L267.5,862.2L268.4,862.5L269.4,862.7L270.3,863.0L271.3,863.3L272.3,863.6L273.2,863.8L274.2,864.1L275.2,864.3L276.1,864.6L277.1,864.8L278.1,865.0L279.1,865.3L280.0,865.5L281.0,865.7L282.0,865.9L283.0,866.1L283.9,866.3L284.9,866.5L285.9,866.7L286.9,866.9L287.9,867.1L288.8,867.3L289.8,867.5L290.8,867.6L291.8,867.8L292.8,868.0L293.8,868.1L294.8,868.3L295.7,868.4L296.7,868.6L297.7,868.8L298.7,868.9L299.7,869.0L300.7,869.2L301.7,869.3L302.7,869.5L303.7,869.6L304.7,869.8L305.6,869.9L306.6,870.0L307.6,870.2L308.6,870.3L309.6,870.4L310.6,870.6L311.6,870.7L312.6,870.8L313.6,871.0L314.6,871.1L315.6,871.2L316.5,871.4L317.5,871.5L318.5,871.6L319.5,871.8L320.5,871.9L321.5,872.0L322.5,872.2L323.5,872.3L324.5,872.4L325.5,872.6L326.5,872.7L327.4,872.8L328.4,873.0L329.4,873.1L330.4,873.2L331.4,873.3L332.4,873.5L333.4,873.6L334.4,873.7L335.4,873.8L336.4,873.9L337.4,874.1L338.4,874.2L339.4,874.3L340.3,874.4L341.3,874.5L342.3,874.6L343.3,874.7L344.3,874.9L345.3,875.0L346.3,875.1L347.3,875.2L348.3,875.3L349.3,875.4L350.3,875.5L351.3,875.6L352.3,875.7L353.3,875.8L354.3,875.8L355.3,875.9L356.3,876.0L357.3,876.1L358.3,876.2L359.3,876.3L360.3,876.4L361.2,876.5L362.2,876.5L363.2,876.6L364.2,876.7L365.2,876.8L366.2,876.8L367.2,876.9L368.2,877.0L369.2,877.0L370.2,877.1L371.2,877.2L372.2,877.2L373.2,877.3L374.2,877.3L375.2,877.4L376.2,877.5L377.2,877.5L378.2,877.6L379.2,877.6L380.2,877.7L381.2,877.7L382.2,877.8L383.2,877.8L384.2,877.9L385.2,877.9L386.2,877.9L387.2,878.0L388.2,878.0L389.2,878.1L390.2,878.1L391.2,878.2L392.2,878.2L393.2,878.2L394.2,878.3L395.2,878.3L396.2,878.3L397.2,878.4L398.2,878.4L399.2,878.5L400.2,878.5L401.2,878.5L402.2,878.6L403.2,878.6L404.2,878.6L405.2,878.7L406.2,878.7L407.2,878.7L408.2,878.8L409.2,878.8L410.2,878.8L411.2,878.9L412.2,878.9L413.2,878.9L414.2,879.0L415.2,879.0L416.2,879.0L417.2,879.1L418.2,879.1L419.2,879.1L420.2,879.1L421.2,879.2L422.2,879.2L423.2,879.2L424.2,879.3L425.2,879.3L426.2,879.3L427.2,879.4L428.2,879.4L429.2,879.4L430.2,879.4L431.2,879.5L432.2,879.5L433.2,879.5L434.2,879.6L435.2,879.6L436.2,879.6L437.2,879.7L438.2,879.7L439.2,879.7L440.2,879.7L441.2,879.8L442.2,879.8L443.2,879.8L444.2,879.9L445.2,879.9L446.2,879.9L447.2,879.9L448.2,880.0L449.2,880.0L450.2,880.0L451.2,880.1L452.2,880.1L453.2,880.1L454.2,880.2L455.2,880.2L456.2,880.2L457.2,880.3L458.2,880.3L459.2,880.3L460.2,880.3L461.2,880.4L462.2,880.4L463.2,880.4L464.2,880.5L465.2,880.5L466.2,880.5L467.2,880.6L468.2,880.6L469.2,880.6L470.2,880.7L471.2,880.7L472.2,880.7L473.2,880.8L474.2,880.8L475.2,880.8L476.2,880.9L477.2,880.9L478.2,880.9L479.2,881.0L480.2,881.0L481.1,881.1L482.1,881.1L483.1,881.1L484.1,881.2L485.1,881.2L486.1,881.2L487.1,881.3L488.1,881.3L489.1,881.3L490.1,881.4L491.1,881.4L492.1,881.4L493.1,881.5L494.1,881.5L495.1,881.5L496.1,881.6L497.1,881.6L498.1,881.7L499.1,881.7L500.1,881.7L501.1,881.8L502.1,881.8L503.1,881.8L504.1,881.9L505.1,881.9L506.1,881.9L507.1,882.0L508.1,882.0L509.1,882.0L510.1,882.1L511.1,882.1L512.1,882.1L513.1,882.2L514.1,882.2L515.1,882.2L516.1,882.3L517.1,882.3L518.1,882.3L519.1,882.4L520.1,882.4L521.1,882.4L522.1,882.5L523.1,882.5L524.1,882.5L525.1,882.6L526.1,882.6L527.1,882.6L528.1,882.7L529.1,882.7L530.1,882.7L531.1,882.7L532.1,882.8L533.1,882.8L534.1,882.8L535.1,882.9L536.1,882.9L537.1,882.9L538.1,882.9L539.1,883.0L540.1,883.0L541.1,883.0L542.1,883.1L543.1,883.1L544.1,883.1L545.1,883.1L546.1,883.2L547.1,883.2L548.1,883.2L549.1,883.2L550.1,883.3L551.1,883.3L552.1,883.3L553.1,883.3L554.1,883.4L555.1,883.4L556.1,883.4L557.1,883.4L558.1,883.5L559.1,883.5L560.1,883.5L561.1,883.5L562.1,883.5L563.1,883.6L564.1,883.6L565.1,883.6L566.1,883.6L567.1,883.6L568.1,883.7L569.1,883.7L570.1,883.7L571.1,883.7L572.1,883.7L573.1,883.8L574.1,883.8L575.1,883.8L576.1,883.8L577.1,883.8L578.1,883.9L579.1,883.9L580.1,883.9L581.1,883.9L582.1,883.9L583.1,883.9L584.1,884.0L585.1,884.0L586.1,884.0L587.1,884.0L588.1,884.0L589.1,884.0L590.1,884.1L591.1,884.1L592.1,884.1L593.1,884.1L594.1,884.1L595.1,884.1L596.1,884.2L597.1,884.2L598.1,884.2L599.1,884.2L600.1,884.2L601.1,884.2L602.1,884.2L603.1,884.3L604.1,884.3L605.1,884.3L606.1,884.3L607.1,884.3L608.1,884.3L609.1,884.3L610.1,884.4L611.1,884.4L612.1,884.4L613.1,884.4L614.1,884.4L615.1,884.4L616.1,884.4L617.1,884.4L618.1,884.5L619.1,884.5L620.1,884.5L621.1,884.5L622.1,884.5L623.1,884.5L624.1,884.5L625.1,884.6L626.1,884.6L627.1,884.6L628.1,884.6L629.1,884.6L630.1,884.6L631.1,884.6L632.1,884.6L633.1,884.6L634.1,884.7L635.1,884.7L636.1,884.7L637.1,884.7L638.1,884.7L639.1,884.7L640.1,884.7L641.1,884.7L642.1,884.8L643.1,884.8L644.1,884.8L645.1,884.8L646.1,884.8L647.1,884.8L648.1,884.8L649.1,884.8L650.1,884.8L651.1,884.9L652.1,884.9L653.1,884.9L654.1,884.9L655.1,884.9L656.1,884.9L657.1,884.9L658.1,884.9L659.1,884.9L660.1,884.9L661.1,885.0L662.1,885.0L663.1,885.0L664.1,885.0L665.1,885.0L666.1,885.0L667.1,885.0L668.1,885.0L669.1,885.0L670.1,885.1L671.1,885.1L672.1,885.1L673.1,885.1L674.1,885.1L675.1,885.1L676.1,885.1L677.1,885.1L678.1,885.1L679.1,885.1L680.1,885.2L681.1,885.2L682.1,885.2L683.1,885.2L684.1,885.2L685.1,885.2L686.1,885.2L687.1,885.2L688.1,885.2L689.1,885.3L690.1,885.3L691.1,885.3L692.1,885.3L693.1,885.3L694.1,885.3L695.1,885.3L696.1,885.3L697.1,885.3L698.1,885.3L699.1,885.4L700.1,885.4L701.1,885.4L702.1,885.4L703.1,885.4L704.1,885.4L705.1,885.4L706.1,885.4L707.1,885.4L708.1,885.4L709.1,885.5L710.1,885.5L711.1,885.5L712.1,885.5L713.1,885.5L714.1,885.5L715.1,885.5L716.1,885.5L717.1,885.5L718.1,885.6L719.1,885.6L720.1,885.6L721.1,885.6L722.1,885.6L723.1,885.6L724.1,885.6L725.1,885.6L726.1,885.6L727.1,885.6L728.1,885.7L729.1,885.7L730.1,885.7L731.1,885.7L732.1,885.7L733.1,885.7L734.1,885.7L735.1,885.7L736.1,885.8L737.1,885.8L738.1,885.8L739.1,885.8L740.1,885.8L741.1,885.8L742.1,885.8L743.1,885.8L744.1,885.8L745.1,885.9L746.1,885.9L747.0,885.9L748.0,885.9L748.9,885.9L749.9,885.9L750.8,885.9L751.6,885.9L752.4,885.9L753.1,886.0L753.8,886.0L754.3,886.0L757.0,886.0" fill="none" stroke="#4577b3" stroke-width="4.3" stroke-linejoin="round" stroke-linecap="round"/>
<path d="M150.7,546.2L151.0,547.9L151.1,548.6L151.2,549.4L151.3,550.3L151.4,551.2L151.6,552.2L151.7,553.1L151.9,554.1L152.0,555.1L152.1,556.1L152.3,557.1L152.4,558.1L152.6,559.1L152.7,560.1L152.9,561.0L153.0,562.0L153.1,563.0L153.3,564.0L153.4,565.0L153.6,566.0L153.7,567.0L153.9,568.0L154.1,569.0L154.2,569.9L154.4,570.9L154.5,571.9L154.7,572.9L154.8,573.9L155.0,574.9L155.2,575.9L155.3,576.8L155.5,577.8L155.7,578.8L155.9,579.8L156.0,580.8L156.2,581.8L156.4,582.8L156.5,583.7L156.7,584.7L156.9,585.7L157.1,586.7L157.2,587.7L157.4,588.7L157.6,589.7L157.8,590.6L157.9,591.6L158.1,592.6L158.3,593.6L158.4,594.6L158.6,595.6L158.8,596.6L158.9,597.5L159.1,598.5L159.3,599.5L159.4,600.5L159.6,601.5L159.8,602.5L160.0,603.5L160.1,604.4L160.3,605.4L160.5,606.4L160.6,607.4L160.8,608.4L161.0,609.4L161.2,610.3L161.4,611.3L161.5,612.3L161.7,613.3L161.9,614.3L162.1,615.3L162.3,616.2L162.5,617.2L162.6,618.2L162.8,619.2L163.0,620.2L163.2,621.2L163.4,622.1L163.6,623.1L163.8,624.1L164.0,625.1L164.2,626.1L164.4,627.0L164.6,628.0L164.8,629.0L165.0,630.0L165.2,630.9L165.5,631.9L165.7,632.9L165.9,633.9L166.1,634.8L166.3,635.8L166.6,636.8L166.8,637.8L167.0,638.7L167.3,639.7L167.5,640.7L167.7,641.7L168.0,642.6L168.2,643.6L168.5,644.6L168.7,645.5L168.9,646.5L169.2,647.5L169.4,648.4L169.7,649.4L170.0,650.4L170.2,651.3L170.5,652.3L170.7,653.3L171.0,654.2L171.3,655.2L171.5,656.2L171.8,657.1L172.1,658.1L172.3,659.1L172.6,660.0L172.9,661.0L173.2,661.9L173.4,662.9L173.7,663.9L174.0,664.8L174.3,665.8L174.6,666.7L174.9,667.7L175.2,668.7L175.5,669.6L175.8,670.6L176.1,671.5L176.4,672.5L176.7,673.4L177.0,674.4L177.3,675.3L177.6,676.3L177.9,677.2L178.2,678.2L178.6,679.1L178.9,680.1L179.2,681.0L179.5,681.9L179.9,682.9L180.2,683.8L180.5,684.8L180.9,685.7L181.2,686.7L181.6,687.6L181.9,688.5L182.2,689.5L182.6,690.4L183.0,691.3L183.3,692.3L183.7,693.2L184.0,694.1L184.4,695.1L184.8,696.0L185.1,696.9L185.5,697.9L185.9,698.8L186.2,699.7L186.6,700.6L187.0,701.6L187.4,702.5L187.8,703.4L188.2,704.3L188.6,705.3L189.0,706.2L189.4,707.1L189.8,708.0L190.2,708.9L190.7,709.8L191.1,710.7L191.6,711.5L192.1,712.4L192.6,713.3L193.1,714.1L193.7,715.0L194.2,715.8L194.8,716.6L195.4,717.4L196.0,718.2L196.6,719.0L197.2,719.8L197.8,720.6L198.4,721.4L199.0,722.2L199.7,723.0L200.3,723.7L200.9,724.5L201.6,725.3L202.2,726.0L202.9,726.8L203.5,727.6L204.2,728.3L204.8,729.1L205.5,729.8L206.1,730.6L206.8,731.3L207.4,732.1L208.1,732.9L208.8,733.6L209.4,734.4L210.0,735.1L210.7,735.9L211.3,736.7L211.9,737.5L212.5,738.3L213.1,739.1L213.7,739.9L214.3,740.6L215.0,741.4L215.6,742.1L216.3,742.9L217.0,743.5L217.8,744.1L218.6,744.7L219.5,745.2L220.3,745.6L221.2,746.0L222.2,746.3L223.1,746.6L224.0,746.9L225.0,747.3L225.9,747.6L226.8,748.1L227.6,748.5L228.5,749.0L229.3,749.6L230.1,750.1L230.9,750.6L231.8,751.1L232.6,751.5L233.5,751.8L234.4,752.0L235.3,752.1L236.3,752.1L237.2,752.1L238.2,752.1L239.2,752.1L240.1,752.2L241.0,752.4L242.0,752.6L242.8,753.0L243.7,753.4L244.5,753.9L245.4,754.5L246.1,755.1L246.9,755.7L247.7,756.3L248.4,757.0L249.1,757.7L249.9,758.4L250.6,759.1L251.3,759.8L252.0,760.5L252.7,761.2L253.4,761.9L254.1,762.6L254.8,763.4L255.4,764.1L256.1,764.9L256.7,765.7L257.4,766.4L258.0,767.2L258.7,767.9L259.3,768.7L260.0,769.5L260.6,770.2L261.3,771.0L261.9,771.7L262.6,772.4L263.3,773.2L264.0,773.9L264.7,774.6L265.4,775.3L266.1,776.0L266.8,776.8L267.5,777.5L268.2,778.2L268.9,778.9L269.7,779.5L270.4,780.2L271.1,780.9L271.8,781.6L272.6,782.3L273.3,783.0L274.0,783.7L274.8,784.3L275.5,785.0L276.2,785.7L277.0,786.4L277.7,787.0L278.5,787.7L279.2,788.4L280.0,789.0L280.7,789.7L281.5,790.3L282.2,791.0L283.0,791.6L283.8,792.2L284.6,792.8L285.4,793.4L286.2,794.0L287.0,794.6L287.8,795.2L288.7,795.7L289.5,796.3L290.3,796.8L291.2,797.4L292.0,797.9L292.9,798.4L293.7,799.0L294.6,799.5L295.4,800.0L296.2,800.6L297.1,801.1L297.9,801.7L298.7,802.3L299.5,802.8L300.4,803.4L301.2,804.0L302.0,804.6L302.8,805.2L303.6,805.8L304.4,806.4L305.2,806.9L306.0,807.5L306.8,808.1L307.6,808.7L308.5,809.3L309.3,809.8L310.1,810.4L310.9,810.9L311.8,811.5L312.6,812.0L313.5,812.6L314.3,813.1L315.2,813.6L316.0,814.2L316.9,814.7L317.7,815.2L318.6,815.7L319.4,816.3L320.3,816.8L321.1,817.3L322.0,817.8L322.8,818.4L323.6,818.9L324.5,819.5L325.3,820.0L326.1,820.6L327.0,821.1L327.8,821.7L328.6,822.2L329.5,822.8L330.3,823.3L331.2,823.8L332.1,824.3L332.9,824.8L333.8,825.3L334.7,825.7L335.6,826.2L336.5,826.6L337.4,827.0L338.3,827.3L339.3,827.6L340.2,827.9L341.2,828.0L342.1,828.1L343.1,828.1L344.1,828.1L345.0,827.9L346.0,827.7L346.9,827.4L347.8,827.0L348.6,826.5L349.5,826.0L350.3,825.5L351.1,824.9L351.9,824.3L352.7,823.7L353.4,823.0L354.1,822.3L354.8,821.6L355.5,820.9L356.1,820.1L356.7,819.3L357.3,818.5L357.9,817.7L358.5,816.9L359.0,816.1L359.6,815.2L360.1,814.4L360.6,813.5L361.1,812.6L361.6,811.8L362.1,810.9L362.6,810.0L363.1,809.1L363.5,808.3L363.9,807.4L364.4,806.4L364.8,805.5L365.2,804.6L365.6,803.7L366.0,802.8L366.4,801.9L366.8,800.9L367.1,800.0L367.5,799.1L367.9,798.2L368.3,797.2L368.7,796.3L369.0,795.4L369.4,794.5L369.8,793.6L370.2,792.6L370.6,791.7L370.9,790.8L371.3,789.8L371.7,788.9L372.1,788.0L372.4,787.1L372.8,786.2L373.2,785.3L373.7,784.4L374.2,783.5L374.7,782.7L375.3,782.0L375.9,781.3L376.6,780.8L377.4,780.4L378.1,780.1L378.9,780.1L379.7,780.2L380.5,780.5L381.2,780.9L381.9,781.5L382.5,782.2L383.1,783.0L383.7,783.8L384.2,784.6L384.7,785.5L385.1,786.4L385.5,787.3L385.9,788.2L386.2,789.1L386.5,790.1L386.8,791.0L387.1,792.0L387.4,792.9L387.7,793.9L387.9,794.9L388.2,795.8L388.5,796.8L388.7,797.8L389.0,798.7L389.2,799.7L389.5,800.7L389.7,801.6L390.0,802.6L390.2,803.6L390.5,804.5L390.7,805.5L390.9,806.5L391.2,807.5L391.4,808.4L391.6,809.4L391.8,810.4L392.0,811.4L392.3,812.3L392.5,813.3L392.7,814.3L392.9,815.3L393.1,816.2L393.4,817.2L393.6,818.2L393.8,819.2L394.0,820.1L394.3,821.1L394.5,822.1L394.7,823.1L395.0,824.0L395.2,825.0L395.4,826.0L395.7,827.0L395.9,827.9L396.1,828.9L396.3,829.9L396.6,830.8L396.8,831.8L397.0,832.8L397.3,833.8L397.5,834.7L397.8,835.7L398.0,836.7L398.3,837.6L398.6,838.6L398.8,839.6L399.1,840.5L399.4,841.5L399.7,842.4L400.0,843.4L400.3,844.3L400.6,845.3L400.9,846.2L401.2,847.2L401.5,848.1L401.8,849.1L402.1,850.0L402.5,851.0L402.8,851.9L403.2,852.9L403.5,853.8L403.9,854.7L404.3,855.6L404.7,856.6L405.1,857.5L405.5,858.4L406.0,859.3L406.4,860.2L406.9,861.0L407.3,861.9L407.8,862.8L408.3,863.7L408.9,864.5L409.4,865.3L410.0,866.2L410.5,867.0L411.2,867.8L411.8,868.5L412.5,869.3L413.2,870.0L413.9,870.6L414.6,871.3L415.4,871.9L416.2,872.4L417.1,873.0L417.9,873.5L418.8,873.9L419.7,874.4L420.6,874.7L421.6,875.1L422.5,875.4L423.4,875.7L424.4,876.0L425.4,876.2L426.3,876.4L427.3,876.6L428.3,876.7L429.3,876.8L430.3,877.0L431.3,877.1L432.3,877.2L433.3,877.2L434.3,877.3L435.3,877.4L436.3,877.5L437.3,877.6L438.3,877.7L439.3,877.7L440.3,877.8L441.3,877.8L442.3,877.9L443.3,877.9L444.3,878.0L445.3,878.0L446.3,878.1L447.3,878.1L448.3,878.1L449.3,878.2L450.3,878.2L451.3,878.2L452.3,878.3L453.3,878.3L454.3,878.3L455.3,878.3L456.3,878.4L457.3,878.4L458.3,878.4L459.3,878.5L460.3,878.5L461.3,878.5L462.2,878.5L463.2,878.6L464.2,878.6L465.2,878.6L466.2,878.6L467.2,878.7L468.2,878.7L469.2,878.7L470.2,878.7L471.2,878.8L472.2,878.8L473.2,878.8L474.2,878.8L475.2,878.8L476.2,878.9L477.2,878.9L478.2,878.9L479.2,878.9L480.2,878.9L481.2,879.0L482.2,879.0L483.2,879.0L484.2,879.0L485.2,879.0L486.2,879.1L487.2,879.1L488.2,879.1L489.2,879.1L490.2,879.1L491.2,879.1L492.2,879.2L493.2,879.2L494.2,879.2L495.2,879.2L496.2,879.2L497.2,879.2L498.2,879.3L499.2,879.3L500.2,879.3L501.2,879.3L502.2,879.3L503.2,879.3L504.2,879.3L505.2,879.4L506.2,879.4L507.2,879.4L508.2,879.4L509.2,879.4L510.2,879.4L511.2,879.4L512.2,879.5L513.2,879.5L514.2,879.5L515.2,879.5L516.2,879.5L517.2,879.5L518.2,879.5L519.2,879.5L520.2,879.6L521.2,879.6L522.2,879.6L523.2,879.6L524.2,879.6L525.2,879.6L526.2,879.6L527.2,879.6L528.2,879.7L529.2,879.7L530.2,879.7L531.2,879.7L532.2,879.7L533.2,879.7L534.2,879.7L535.2,879.7L536.2,879.7L537.2,879.8L538.2,879.8L539.2,879.8L540.2,879.8L541.2,879.8L542.2,879.8L543.2,879.8L544.2,879.8L545.2,879.8L546.2,879.9L547.2,879.9L548.2,879.9L549.2,879.9L550.2,879.9L551.2,879.9L552.2,879.9L553.2,879.9L554.2,879.9L555.2,879.9L556.2,880.0L557.2,880.0L558.2,880.0L559.2,880.0L560.2,880.0L561.2,880.0L562.2,880.0L563.2,880.0L564.2,880.0L565.2,880.1L566.2,880.1L567.2,880.1L568.2,880.1L569.2,880.1L570.2,880.1L571.2,880.1L572.2,880.1L573.2,880.1L574.2,880.1L575.2,880.1L576.2,880.2L577.2,880.2L578.2,880.2L579.2,880.2L580.2,880.2L581.2,880.2L582.2,880.2L583.2,880.2L584.2,880.2L585.2,880.2L586.2,880.2L587.2,880.3L588.2,880.3L589.2,880.3L590.2,880.3L591.2,880.3L592.2,880.3L593.2,880.3L594.2,880.3L595.2,880.3L596.2,880.3L597.2,880.3L598.2,880.3L599.2,880.3L600.2,880.4L601.2,880.4L602.2,880.4L603.2,880.4L604.2,880.4L605.2,880.4L606.2,880.4L607.2,880.4L608.2,880.4L609.2,880.4L610.2,880.4L611.2,880.4L612.2,880.4L613.2,880.4L614.2,880.5L615.2,880.5L616.2,880.5L617.2,880.5L618.2,880.5L619.2,880.5L620.2,880.5L621.2,880.5L622.2,880.5L623.2,880.5L624.2,880.5L625.2,880.5L626.2,880.5L627.2,880.5L628.2,880.5L629.2,880.6L630.2,880.6L631.2,880.6L632.2,880.6L633.2,880.6L634.2,880.6L635.2,880.6L636.2,880.6L637.2,880.6L638.2,880.6L639.2,880.6L640.2,880.6L641.2,880.6L642.2,880.6L643.2,880.6L644.2,880.6L645.2,880.7L646.2,880.7L647.2,880.7L648.2,880.7L649.2,880.7L650.2,880.7L651.2,880.7L652.2,880.7L653.2,880.7L654.2,880.7L655.2,880.7L656.2,880.7L657.2,880.7L658.2,880.7L659.2,880.7L660.2,880.7L661.2,880.7L662.2,880.7L663.2,880.8L664.2,880.8L665.2,880.8L666.2,880.8L667.2,880.8L668.2,880.8L669.2,880.8L670.2,880.8L671.2,880.8L672.2,880.8L673.2,880.8L674.2,880.8L675.2,880.8L676.2,880.8L677.2,880.8L678.2,880.8L679.2,880.8L680.2,880.9L681.2,880.9L682.2,880.9L683.2,880.9L684.2,880.9L685.2,880.9L686.2,880.9L687.2,880.9L688.2,880.9L689.2,880.9L690.2,880.9L691.2,880.9L692.2,880.9L693.2,880.9L694.2,880.9L695.2,880.9L696.2,880.9L697.2,880.9L698.2,881.0L699.2,881.0L700.2,881.0L701.2,881.0L702.2,881.0L703.2,881.0L704.2,881.0L705.2,881.0L706.2,881.0L707.2,881.0L708.2,881.0L709.2,881.0L710.2,881.0L711.2,881.0L712.2,881.0L713.2,881.0L714.2,881.0L715.2,881.0L716.2,881.1L717.2,881.1L718.2,881.1L719.2,881.1L720.2,881.1L721.2,881.1L722.2,881.1L723.2,881.1L724.2,881.1L725.2,881.1L726.2,881.1L727.2,881.1L728.2,881.1L729.2,881.1L730.2,881.1L731.2,881.1L732.2,881.1L733.2,881.2L734.2,881.2L735.2,881.2L736.2,881.2L737.2,881.2L738.2,881.2L739.2,881.2L740.2,881.2L741.2,881.2L742.2,881.2L743.2,881.2L744.2,881.2L745.2,881.2L746.2,881.2L747.2,881.2L748.2,881.2L749.2,881.2L750.2,881.3L751.2,881.3L752.1,881.3L753.1,881.3L753.9,881.3L754.6,881.3L755.3,881.3L757.0,881.3" fill="none" stroke="#b54a4e" stroke-width="4.3" stroke-linejoin="round" stroke-linecap="round"/>
<path d="M136.3,1078.1 H758.0 V1434.4" fill="none" stroke="#4a4a4a" stroke-width="2" stroke-linejoin="round"/>
<line x1="136.3" y1="1078.1" x2="148.3" y2="1078.1" stroke="#4a4a4a" stroke-width="2"/>
<line x1="139.3" y1="1137.5" x2="148.3" y2="1137.5" stroke="#4a4a4a" stroke-width="2"/>
<line x1="136.3" y1="1196.9" x2="148.3" y2="1196.9" stroke="#4a4a4a" stroke-width="2"/>
<line x1="139.3" y1="1256.2" x2="148.3" y2="1256.2" stroke="#4a4a4a" stroke-width="2"/>
<line x1="136.3" y1="1315.6" x2="148.3" y2="1315.6" stroke="#4a4a4a" stroke-width="2"/>
<line x1="139.3" y1="1375.0" x2="148.3" y2="1375.0" stroke="#4a4a4a" stroke-width="2"/>
<line x1="136.3" y1="1434.4" x2="148.3" y2="1434.4" stroke="#4a4a4a" stroke-width="2"/>
<line x1="148.3" y1="1434.4" x2="148.3" y2="1446.4" stroke="#1a1a1a" stroke-width="2"/>
<line x1="168.6" y1="1434.4" x2="168.6" y2="1443.4" stroke="#4a4a4a" stroke-width="2"/>
<line x1="188.9" y1="1434.4" x2="188.9" y2="1443.4" stroke="#4a4a4a" stroke-width="2"/>
<line x1="209.3" y1="1434.4" x2="209.3" y2="1443.4" stroke="#4a4a4a" stroke-width="2"/>
<line x1="229.6" y1="1434.4" x2="229.6" y2="1443.4" stroke="#4a4a4a" stroke-width="2"/>
<line x1="249.9" y1="1421.4" x2="249.9" y2="1446.4" stroke="#1a1a1a" stroke-width="2"/>
<line x1="270.2" y1="1434.4" x2="270.2" y2="1443.4" stroke="#4a4a4a" stroke-width="2"/>
<line x1="290.6" y1="1434.4" x2="290.6" y2="1443.4" stroke="#4a4a4a" stroke-width="2"/>
<line x1="310.9" y1="1434.4" x2="310.9" y2="1443.4" stroke="#4a4a4a" stroke-width="2"/>
<line x1="331.2" y1="1434.4" x2="331.2" y2="1443.4" stroke="#4a4a4a" stroke-width="2"/>
<line x1="351.5" y1="1421.4" x2="351.5" y2="1446.4" stroke="#1a1a1a" stroke-width="2"/>
<line x1="371.9" y1="1434.4" x2="371.9" y2="1443.4" stroke="#4a4a4a" stroke-width="2"/>
<line x1="392.2" y1="1434.4" x2="392.2" y2="1443.4" stroke="#4a4a4a" stroke-width="2"/>
<line x1="412.5" y1="1434.4" x2="412.5" y2="1443.4" stroke="#4a4a4a" stroke-width="2"/>
<line x1="432.8" y1="1434.4" x2="432.8" y2="1443.4" stroke="#4a4a4a" stroke-width="2"/>
<line x1="453.2" y1="1421.4" x2="453.2" y2="1446.4" stroke="#1a1a1a" stroke-width="2"/>
<line x1="473.5" y1="1434.4" x2="473.5" y2="1443.4" stroke="#4a4a4a" stroke-width="2"/>
<line x1="493.8" y1="1434.4" x2="493.8" y2="1443.4" stroke="#4a4a4a" stroke-width="2"/>
<line x1="514.1" y1="1434.4" x2="514.1" y2="1443.4" stroke="#4a4a4a" stroke-width="2"/>
<line x1="534.4" y1="1434.4" x2="534.4" y2="1443.4" stroke="#4a4a4a" stroke-width="2"/>
<line x1="554.8" y1="1421.4" x2="554.8" y2="1446.4" stroke="#1a1a1a" stroke-width="2"/>
<line x1="575.1" y1="1434.4" x2="575.1" y2="1443.4" stroke="#4a4a4a" stroke-width="2"/>
<line x1="595.4" y1="1434.4" x2="595.4" y2="1443.4" stroke="#4a4a4a" stroke-width="2"/>
<line x1="615.7" y1="1434.4" x2="615.7" y2="1443.4" stroke="#4a4a4a" stroke-width="2"/>
<line x1="636.1" y1="1434.4" x2="636.1" y2="1443.4" stroke="#4a4a4a" stroke-width="2"/>
<line x1="656.4" y1="1421.4" x2="656.4" y2="1446.4" stroke="#1a1a1a" stroke-width="2"/>
<line x1="676.7" y1="1434.4" x2="676.7" y2="1443.4" stroke="#4a4a4a" stroke-width="2"/>
<line x1="697.0" y1="1434.4" x2="697.0" y2="1443.4" stroke="#4a4a4a" stroke-width="2"/>
<line x1="717.4" y1="1434.4" x2="717.4" y2="1443.4" stroke="#4a4a4a" stroke-width="2"/>
<line x1="737.7" y1="1434.4" x2="737.7" y2="1443.4" stroke="#4a4a4a" stroke-width="2"/>
<line x1="758.0" y1="1434.4" x2="758.0" y2="1446.4" stroke="#1a1a1a" stroke-width="2"/>
<path d="M148.3,1078.1 V1434.4 H758.0" fill="none" stroke="#1a1a1a" stroke-width="2.4"/>
<line x1="136.3" y1="1434.4" x2="148.3" y2="1434.4" stroke="#1a1a1a" stroke-width="2.4"/>
<text x="122.5" y="1091.3" font-size="33" text-anchor="end">0.36</text>
<text x="122.5" y="1210.4" font-size="33" text-anchor="end">0.24</text>
<text x="122.5" y="1328.5" font-size="33" text-anchor="end">0.12</text>
<text x="122.5" y="1446.9" font-size="33" text-anchor="end">0.00</text>
<text x="150.0" y="1486.9" font-size="33" text-anchor="middle">300</text>
<text x="251.6" y="1486.9" font-size="33" text-anchor="middle">350</text>
<text x="353.2" y="1486.9" font-size="33" text-anchor="middle">400</text>
<text x="454.9" y="1486.9" font-size="33" text-anchor="middle">450</text>
<text x="556.5" y="1486.9" font-size="33" text-anchor="middle">500</text>
<text x="658.1" y="1486.9" font-size="33" text-anchor="middle">550</text>
<text x="759.7" y="1486.9" font-size="33" text-anchor="middle">600</text>
<text x="456.9" y="1533.2" font-size="33.2" text-anchor="middle">Wavelength (nm)</text>
<text x="0" y="0" font-size="33.4" text-anchor="middle" transform="translate(27.9,1252.6) rotate(-90)">Absorbance</text>
<text x="0" y="0" font-size="42" font-weight="bold" transform="translate(-2.0,1080.4) scale(1.05,1)">c</text>
<text x="550.7" y="1182.3" font-size="33">CdTeSe</text>
<line x1="560.8" y1="1224.3" x2="623.8" y2="1224.3" stroke="#4577b3" stroke-width="3.8" stroke-linecap="round"/>
<line x1="560.8" y1="1283.0" x2="623.8" y2="1283.0" stroke="#b54a4e" stroke-width="3.8" stroke-linecap="round"/>
<text x="640.5" y="1235.8" font-size="33">0 h</text>
<text x="641.1" y="1294.5" font-size="33">43 h</text>
<text x="272.1" y="1170.6" font-size="33">MSC-399</text>
<line x1="344.8" y1="1394.0" x2="344.8" y2="1271.3" stroke="#7b7b7b" stroke-width="2.8" stroke-dasharray="18.5 7.5"/>
<path d="M344.8,1253.0 Q348.4,1262.4 354.1,1269.8 L344.8,1265.5 L335.5,1269.8 Q341.2,1262.4 344.8,1253.0 Z" fill="#7b7b7b"/>
<path d="M148.8,1275.2L150.0,1277.4L150.3,1278.0L150.7,1278.6L151.0,1279.2L151.4,1279.9L151.8,1280.7L152.3,1281.5L152.7,1282.3L153.2,1283.1L153.7,1284.0L154.1,1284.8L154.6,1285.7L155.1,1286.6L155.5,1287.5L156.0,1288.4L156.5,1289.2L157.0,1290.1L157.4,1291.0L157.9,1291.9L158.3,1292.8L158.8,1293.7L159.2,1294.6L159.7,1295.5L160.1,1296.3L160.6,1297.2L161.0,1298.1L161.5,1299.0L161.9,1299.9L162.4,1300.8L162.8,1301.7L163.3,1302.6L163.7,1303.5L164.1,1304.4L164.6,1305.3L165.0,1306.2L165.5,1307.1L165.9,1308.0L166.3,1308.9L166.8,1309.8L167.2,1310.7L167.7,1311.6L168.1,1312.5L168.5,1313.4L169.0,1314.3L169.4,1315.2L169.9,1316.1L170.3,1317.0L170.7,1317.9L171.2,1318.8L171.6,1319.7L172.1,1320.6L172.6,1321.4L173.0,1322.3L173.5,1323.2L173.9,1324.1L174.4,1325.0L174.9,1325.9L175.4,1326.7L175.9,1327.6L176.4,1328.5L176.9,1329.3L177.4,1330.2L177.9,1331.1L178.4,1331.9L178.9,1332.8L179.4,1333.6L179.9,1334.5L180.5,1335.3L181.0,1336.2L181.5,1337.0L182.1,1337.9L182.6,1338.7L183.2,1339.5L183.8,1340.3L184.3,1341.2L184.9,1342.0L185.5,1342.8L186.1,1343.6L186.7,1344.4L187.3,1345.2L187.9,1346.0L188.5,1346.8L189.2,1347.5L189.8,1348.3L190.4,1349.1L191.1,1349.8L191.7,1350.6L192.4,1351.3L193.1,1352.1L193.8,1352.8L194.4,1353.5L195.1,1354.2L195.9,1354.9L196.6,1355.6L197.3,1356.3L198.0,1357.0L198.8,1357.6L199.5,1358.3L200.3,1358.9L201.1,1359.5L201.9,1360.2L202.7,1360.8L203.5,1361.4L204.3,1361.9L205.1,1362.5L205.9,1363.1L206.7,1363.7L207.5,1364.3L208.3,1364.8L209.1,1365.4L209.9,1366.0L210.7,1366.6L211.5,1367.2L212.3,1367.9L213.0,1368.5L213.8,1369.2L214.5,1369.9L215.2,1370.5L215.9,1371.2L216.6,1371.9L217.3,1372.7L218.0,1373.4L218.7,1374.1L219.4,1374.7L220.1,1375.4L220.8,1376.0L221.6,1376.7L222.4,1377.3L223.2,1377.8L224.0,1378.4L224.8,1378.9L225.7,1379.4L226.5,1379.9L227.4,1380.4L228.3,1380.9L229.2,1381.4L230.0,1381.8L230.9,1382.3L231.8,1382.8L232.7,1383.2L233.6,1383.7L234.5,1384.1L235.4,1384.6L236.2,1385.1L237.1,1385.5L238.0,1386.0L238.9,1386.4L239.8,1386.8L240.7,1387.3L241.6,1387.7L242.5,1388.1L243.4,1388.5L244.4,1388.9L245.3,1389.4L246.2,1389.7L247.1,1390.1L248.0,1390.5L249.0,1390.9L249.9,1391.3L250.8,1391.6L251.7,1392.0L252.7,1392.3L253.6,1392.7L254.6,1393.0L255.5,1393.4L256.4,1393.7L257.4,1394.0L258.3,1394.3L259.3,1394.7L260.2,1395.0L261.2,1395.3L262.1,1395.6L263.1,1395.9L264.1,1396.1L265.0,1396.4L266.0,1396.7L266.9,1397.0L267.9,1397.2L268.9,1397.5L269.8,1397.7L270.8,1397.9L271.8,1398.2L272.8,1398.4L273.7,1398.6L274.7,1398.9L275.7,1399.1L276.7,1399.3L277.6,1399.5L278.6,1399.7L279.6,1399.9L280.6,1400.1L281.6,1400.3L282.5,1400.5L283.5,1400.7L284.5,1400.8L285.5,1401.0L286.5,1401.2L287.5,1401.4L288.4,1401.5L289.4,1401.7L290.4,1401.9L291.4,1402.0L292.4,1402.2L293.4,1402.4L294.4,1402.5L295.4,1402.7L296.3,1402.8L297.3,1403.0L298.3,1403.1L299.3,1403.2L300.3,1403.4L301.3,1403.5L302.3,1403.7L303.3,1403.8L304.3,1403.9L305.3,1404.1L306.2,1404.2L307.2,1404.3L308.2,1404.5L309.2,1404.6L310.2,1404.7L311.2,1404.9L312.2,1405.0L313.2,1405.2L314.2,1405.3L315.2,1405.5L316.1,1405.6L317.1,1405.7L318.1,1405.9L319.1,1406.0L320.1,1406.2L321.1,1406.4L322.1,1406.5L323.1,1406.7L324.1,1406.8L325.0,1407.0L326.0,1407.1L327.0,1407.3L328.0,1407.4L329.0,1407.6L330.0,1407.7L331.0,1407.8L332.0,1408.0L333.0,1408.1L333.9,1408.2L334.9,1408.4L335.9,1408.5L336.9,1408.6L337.9,1408.7L338.9,1408.8L339.9,1408.9L340.9,1409.0L341.9,1409.1L342.9,1409.2L343.9,1409.3L344.9,1409.4L345.9,1409.5L346.9,1409.6L347.9,1409.6L348.9,1409.7L349.9,1409.8L350.9,1409.9L351.9,1409.9L352.9,1410.0L353.9,1410.1L354.9,1410.1L355.9,1410.2L356.8,1410.3L357.8,1410.3L358.8,1410.4L359.8,1410.4L360.8,1410.5L361.8,1410.5L362.8,1410.6L363.8,1410.7L364.8,1410.7L365.8,1410.8L366.8,1410.8L367.8,1410.9L368.8,1410.9L369.8,1411.0L370.8,1411.0L371.8,1411.0L372.8,1411.1L373.8,1411.1L374.8,1411.2L375.8,1411.2L376.8,1411.3L377.8,1411.3L378.8,1411.3L379.8,1411.4L380.8,1411.4L381.8,1411.5L382.8,1411.5L383.8,1411.5L384.8,1411.6L385.8,1411.6L386.8,1411.6L387.8,1411.7L388.8,1411.7L389.8,1411.7L390.8,1411.8L391.8,1411.8L392.8,1411.8L393.8,1411.8L394.8,1411.8L395.8,1411.9L396.8,1411.9L397.8,1411.9L398.8,1411.9L399.8,1411.9L400.8,1411.9L401.8,1411.9L402.8,1411.9L403.8,1411.9L404.8,1411.9L405.8,1411.9L406.8,1411.9L407.8,1411.9L408.8,1411.9L409.8,1411.9L410.8,1411.9L411.8,1411.9L412.8,1411.9L413.8,1411.9L414.8,1411.9L415.8,1411.9L416.8,1412.0L417.8,1412.0L418.8,1412.0L419.8,1412.0L420.8,1412.0L421.8,1412.1L422.8,1412.1L423.8,1412.1L424.8,1412.1L425.8,1412.2L426.8,1412.2L427.8,1412.2L428.8,1412.3L429.8,1412.3L430.8,1412.3L431.8,1412.3L432.8,1412.4L433.8,1412.4L434.8,1412.4L435.8,1412.5L436.8,1412.5L437.8,1412.5L438.8,1412.6L439.8,1412.6L440.8,1412.6L441.8,1412.7L442.8,1412.7L443.8,1412.7L444.8,1412.8L445.8,1412.8L446.8,1412.8L447.8,1412.9L448.8,1412.9L449.8,1412.9L450.8,1413.0L451.8,1413.0L452.8,1413.0L453.8,1413.0L454.8,1413.1L455.8,1413.1L456.8,1413.1L457.8,1413.2L458.8,1413.2L459.8,1413.2L460.8,1413.2L461.8,1413.3L462.8,1413.3L463.8,1413.3L464.8,1413.3L465.8,1413.3L466.8,1413.4L467.8,1413.4L468.8,1413.4L469.8,1413.4L470.8,1413.4L471.8,1413.5L472.8,1413.5L473.8,1413.5L474.8,1413.5L475.8,1413.5L476.8,1413.5L477.8,1413.6L478.8,1413.6L479.8,1413.6L480.8,1413.6L481.8,1413.6L482.8,1413.6L483.8,1413.6L484.8,1413.7L485.8,1413.7L486.8,1413.7L487.8,1413.7L488.8,1413.7L489.8,1413.7L490.8,1413.7L491.8,1413.7L492.8,1413.7L493.8,1413.7L494.8,1413.7L495.8,1413.8L496.8,1413.8L497.8,1413.8L498.8,1413.8L499.8,1413.8L500.8,1413.8L501.8,1413.8L502.8,1413.8L503.8,1413.8L504.8,1413.8L505.8,1413.8L506.8,1413.8L507.8,1413.8L508.8,1413.8L509.8,1413.8L510.8,1413.8L511.8,1413.8L512.8,1413.9L513.8,1413.9L514.8,1413.9L515.8,1413.9L516.8,1413.9L517.8,1413.9L518.8,1413.9L519.8,1413.9L520.8,1413.9L521.8,1413.9L522.8,1413.9L523.8,1413.9L524.8,1413.9L525.8,1413.9L526.8,1413.9L527.8,1413.9L528.8,1413.9L529.8,1413.9L530.8,1413.9L531.8,1413.9L532.8,1413.9L533.8,1413.9L534.8,1413.9L535.8,1413.9L536.8,1413.9L537.8,1413.9L538.8,1413.9L539.8,1413.9L540.8,1413.9L541.8,1413.9L542.8,1413.9L543.8,1413.9L544.8,1413.9L545.8,1413.9L546.8,1413.9L547.8,1413.9L548.8,1413.9L549.8,1413.9L550.8,1413.9L551.8,1413.9L552.8,1413.9L553.8,1413.9L554.8,1413.9L555.8,1413.9L556.8,1413.9L557.8,1413.9L558.8,1413.9L559.8,1413.9L560.8,1413.9L561.8,1413.9L562.8,1413.9L563.8,1413.9L564.8,1413.9L565.8,1413.9L566.8,1413.9L567.8,1413.9L568.8,1413.9L569.8,1413.9L570.8,1413.9L571.8,1413.9L572.8,1413.9L573.8,1413.9L574.8,1413.9L575.8,1413.9L576.8,1413.9L577.8,1413.9L578.8,1413.9L579.8,1413.9L580.8,1413.9L581.8,1413.9L582.8,1413.9L583.8,1413.9L584.8,1413.9L585.8,1413.9L586.8,1413.9L587.8,1413.9L588.8,1413.9L589.8,1413.9L590.8,1413.9L591.8,1413.9L592.8,1413.9L593.8,1413.9L594.8,1413.9L595.8,1413.9L596.8,1413.9L597.8,1413.9L598.8,1413.9L599.8,1413.9L600.8,1413.9L601.8,1413.9L602.8,1413.9L603.8,1413.9L604.8,1413.9L605.8,1413.9L606.8,1413.9L607.8,1413.9L608.8,1413.8L609.8,1413.8L610.8,1413.8L611.8,1413.8L612.8,1413.8L613.8,1413.8L614.8,1413.8L615.8,1413.8L616.8,1413.8L617.8,1413.8L618.8,1413.8L619.8,1413.8L620.8,1413.8L621.8,1413.8L622.8,1413.8L623.8,1413.8L624.8,1413.8L625.8,1413.8L626.8,1413.8L627.8,1413.8L628.8,1413.8L629.8,1413.8L630.8,1413.8L631.8,1413.8L632.8,1413.8L633.8,1413.8L634.8,1413.8L635.8,1413.8L636.8,1413.8L637.8,1413.8L638.8,1413.8L639.8,1413.8L640.8,1413.8L641.8,1413.8L642.8,1413.8L643.8,1413.8L644.8,1413.8L645.8,1413.8L646.8,1413.7L647.8,1413.7L648.8,1413.7L649.8,1413.7L650.8,1413.7L651.8,1413.7L652.8,1413.7L653.8,1413.7L654.8,1413.7L655.8,1413.7L656.8,1413.7L657.8,1413.7L658.8,1413.7L659.8,1413.7L660.8,1413.7L661.8,1413.7L662.8,1413.7L663.8,1413.7L664.8,1413.7L665.8,1413.7L666.8,1413.7L667.8,1413.7L668.8,1413.7L669.8,1413.7L670.8,1413.7L671.8,1413.7L672.8,1413.7L673.8,1413.7L674.8,1413.7L675.8,1413.7L676.8,1413.7L677.8,1413.7L678.8,1413.7L679.8,1413.7L680.8,1413.6L681.8,1413.6L682.8,1413.6L683.8,1413.6L684.8,1413.6L685.8,1413.6L686.8,1413.6L687.8,1413.6L688.8,1413.6L689.8,1413.6L690.8,1413.6L691.8,1413.6L692.8,1413.6L693.8,1413.6L694.8,1413.6L695.8,1413.6L696.8,1413.6L697.8,1413.6L698.8,1413.6L699.8,1413.6L700.8,1413.6L701.8,1413.6L702.8,1413.6L703.8,1413.6L704.8,1413.6L705.8,1413.6L706.8,1413.6L707.8,1413.6L708.8,1413.6L709.8,1413.6L710.8,1413.6L711.8,1413.6L712.8,1413.6L713.8,1413.6L714.8,1413.6L715.8,1413.6L716.8,1413.6L717.8,1413.6L718.8,1413.6L719.8,1413.6L720.8,1413.5L721.8,1413.5L722.8,1413.5L723.8,1413.5L724.8,1413.5L725.8,1413.5L726.8,1413.5L727.8,1413.5L728.8,1413.5L729.8,1413.5L730.8,1413.5L731.8,1413.5L732.8,1413.5L733.8,1413.5L734.8,1413.5L735.8,1413.5L736.8,1413.5L737.8,1413.5L738.8,1413.5L739.8,1413.5L740.8,1413.5L741.8,1413.5L742.8,1413.5L743.8,1413.5L744.8,1413.5L745.8,1413.5L746.8,1413.5L747.7,1413.5L748.7,1413.5L749.7,1413.5L750.6,1413.5L751.5,1413.5L752.4,1413.5L753.2,1413.5L753.9,1413.5L754.6,1413.5L755.3,1413.5L758.0,1413.5" fill="none" stroke="#4577b3" stroke-width="4.3" stroke-linejoin="round" stroke-linecap="round"/>
<path d="M149.2,1081.2L149.5,1082.6L149.6,1083.3L149.8,1084.2L150.0,1085.1L150.2,1086.1L150.4,1087.1L150.6,1088.1L150.8,1089.0L151.0,1090.0L151.2,1091.0L151.4,1092.0L151.6,1093.0L151.8,1093.9L152.0,1094.9L152.2,1095.9L152.4,1096.9L152.6,1097.9L152.8,1098.8L153.0,1099.8L153.2,1100.8L153.4,1101.8L153.6,1102.7L153.8,1103.7L154.0,1104.7L154.2,1105.7L154.4,1106.7L154.6,1107.6L154.8,1108.6L155.0,1109.6L155.2,1110.6L155.4,1111.6L155.6,1112.5L155.8,1113.5L156.0,1114.5L156.2,1115.5L156.4,1116.5L156.6,1117.5L156.8,1118.4L157.0,1119.4L157.2,1120.4L157.4,1121.4L157.5,1122.4L157.7,1123.3L157.9,1124.3L158.1,1125.3L158.3,1126.3L158.5,1127.3L158.7,1128.3L158.9,1129.2L159.1,1130.2L159.3,1131.2L159.5,1132.2L159.7,1133.2L159.8,1134.1L160.0,1135.1L160.2,1136.1L160.4,1137.1L160.7,1138.1L160.9,1139.0L161.1,1140.0L161.3,1141.0L161.5,1142.0L161.7,1142.9L161.9,1143.9L162.1,1144.9L162.4,1145.9L162.6,1146.8L162.8,1147.8L163.0,1148.8L163.3,1149.8L163.5,1150.7L163.7,1151.7L163.9,1152.7L164.2,1153.7L164.4,1154.6L164.6,1155.6L164.9,1156.6L165.1,1157.5L165.4,1158.5L165.6,1159.5L165.8,1160.5L166.1,1161.4L166.3,1162.4L166.6,1163.4L166.8,1164.3L167.1,1165.3L167.3,1166.3L167.6,1167.2L167.8,1168.2L168.1,1169.2L168.3,1170.1L168.6,1171.1L168.8,1172.1L169.1,1173.0L169.4,1174.0L169.6,1175.0L169.9,1175.9L170.1,1176.9L170.4,1177.9L170.6,1178.8L170.9,1179.8L171.2,1180.8L171.4,1181.7L171.7,1182.7L172.0,1183.7L172.2,1184.6L172.5,1185.6L172.8,1186.6L173.1,1187.5L173.3,1188.5L173.6,1189.4L173.9,1190.4L174.2,1191.4L174.5,1192.3L174.7,1193.3L175.0,1194.2L175.3,1195.2L175.6,1196.1L175.9,1197.1L176.2,1198.1L176.5,1199.0L176.8,1200.0L177.1,1200.9L177.4,1201.9L177.7,1202.8L178.0,1203.8L178.3,1204.7L178.6,1205.7L178.9,1206.6L179.2,1207.6L179.5,1208.6L179.8,1209.5L180.1,1210.5L180.4,1211.4L180.7,1212.4L181.0,1213.3L181.3,1214.3L181.7,1215.2L182.0,1216.2L182.3,1217.1L182.6,1218.1L182.9,1219.0L183.2,1220.0L183.5,1220.9L183.8,1221.9L184.2,1222.8L184.5,1223.8L184.8,1224.7L185.1,1225.7L185.4,1226.6L185.7,1227.6L186.0,1228.5L186.3,1229.5L186.7,1230.4L187.0,1231.4L187.3,1232.3L187.6,1233.3L187.9,1234.2L188.2,1235.2L188.6,1236.1L188.9,1237.0L189.2,1238.0L189.5,1238.9L189.9,1239.9L190.2,1240.8L190.6,1241.8L190.9,1242.7L191.2,1243.6L191.6,1244.6L191.9,1245.5L192.3,1246.4L192.6,1247.4L193.0,1248.3L193.4,1249.3L193.7,1250.2L194.1,1251.1L194.4,1252.0L194.8,1253.0L195.2,1253.9L195.6,1254.8L195.9,1255.8L196.3,1256.7L196.7,1257.6L197.1,1258.5L197.5,1259.4L197.9,1260.4L198.3,1261.3L198.7,1262.2L199.1,1263.1L199.5,1264.0L199.9,1264.9L200.4,1265.8L200.8,1266.7L201.2,1267.6L201.6,1268.5L202.1,1269.4L202.5,1270.3L203.0,1271.2L203.4,1272.1L203.8,1273.0L204.3,1273.9L204.7,1274.8L205.2,1275.7L205.7,1276.6L206.1,1277.5L206.6,1278.4L207.0,1279.3L207.5,1280.1L208.0,1281.0L208.5,1281.9L209.0,1282.8L209.5,1283.6L210.0,1284.5L210.5,1285.3L211.0,1286.2L211.6,1287.0L212.1,1287.9L212.7,1288.7L213.2,1289.5L213.7,1290.4L214.3,1291.2L214.8,1292.1L215.3,1293.0L215.7,1293.8L216.1,1294.7L216.5,1295.7L216.8,1296.6L217.1,1297.6L217.4,1298.5L217.6,1299.5L217.8,1300.5L218.0,1301.5L218.2,1302.4L218.4,1303.4L218.7,1304.4L219.0,1305.3L219.4,1306.2L219.8,1307.1L220.2,1308.1L220.7,1308.9L221.1,1309.8L221.6,1310.7L222.1,1311.6L222.6,1312.4L223.1,1313.3L223.6,1314.2L224.1,1315.0L224.7,1315.9L225.2,1316.7L225.7,1317.5L226.3,1318.4L226.8,1319.2L227.3,1320.1L227.9,1320.9L228.4,1321.8L228.9,1322.6L229.5,1323.5L230.0,1324.3L230.5,1325.2L231.1,1326.0L231.6,1326.8L232.2,1327.7L232.8,1328.5L233.4,1329.3L234.0,1330.1L234.6,1330.8L235.3,1331.6L235.9,1332.4L236.6,1333.1L237.3,1333.8L238.0,1334.5L238.7,1335.2L239.4,1335.9L240.2,1336.6L240.9,1337.3L241.7,1337.9L242.5,1338.5L243.3,1339.1L244.1,1339.7L244.9,1340.2L245.7,1340.8L246.6,1341.3L247.5,1341.7L248.4,1342.1L249.3,1342.5L250.3,1342.9L251.2,1343.2L252.1,1343.5L253.1,1343.8L254.1,1344.1L255.0,1344.3L256.0,1344.5L257.0,1344.6L258.0,1344.8L259.0,1344.9L260.0,1345.0L261.0,1345.0L262.0,1345.0L263.0,1345.0L264.0,1344.9L264.9,1344.7L265.9,1344.5L266.9,1344.3L267.9,1344.1L268.8,1343.8L269.8,1343.6L270.8,1343.3L271.7,1343.0L272.7,1342.8L273.7,1342.6L274.6,1342.4L275.6,1342.2L276.6,1342.0L277.6,1341.9L278.6,1341.8L279.6,1341.6L280.6,1341.5L281.6,1341.4L282.6,1341.4L283.6,1341.3L284.6,1341.3L285.6,1341.2L286.6,1341.3L287.6,1341.3L288.6,1341.4L289.5,1341.5L290.5,1341.7L291.5,1341.8L292.5,1342.1L293.5,1342.3L294.4,1342.6L295.4,1342.9L296.3,1343.1L297.3,1343.4L298.3,1343.6L299.2,1343.9L300.2,1344.1L301.2,1344.3L302.2,1344.6L303.1,1344.8L304.1,1345.0L305.1,1345.1L306.0,1345.2L307.0,1345.1L307.8,1344.8L308.6,1344.4L309.2,1343.8L309.8,1343.0L310.2,1342.2L310.6,1341.3L311.0,1340.4L311.4,1339.5L311.9,1338.6L312.5,1337.8L313.1,1337.1L313.8,1336.3L314.4,1335.6L315.1,1334.8L315.7,1334.0L316.3,1333.2L316.8,1332.4L317.3,1331.5L317.7,1330.6L318.1,1329.7L318.5,1328.8L318.8,1327.8L319.1,1326.9L319.4,1325.9L319.7,1325.0L319.9,1324.0L320.2,1323.0L320.4,1322.1L320.6,1321.1L320.9,1320.1L321.1,1319.1L321.3,1318.2L321.6,1317.2L321.8,1316.2L322.0,1315.3L322.2,1314.3L322.5,1313.3L322.7,1312.3L322.9,1311.3L323.1,1310.4L323.3,1309.4L323.5,1308.4L323.7,1307.4L323.8,1306.4L324.0,1305.5L324.2,1304.5L324.4,1303.5L324.6,1302.5L324.8,1301.5L325.0,1300.5L325.2,1299.6L325.4,1298.6L325.5,1297.6L325.7,1296.6L325.9,1295.6L326.1,1294.7L326.3,1293.7L326.5,1292.7L326.7,1291.7L326.9,1290.7L327.1,1289.8L327.3,1288.8L327.5,1287.8L327.7,1286.8L327.9,1285.8L328.1,1284.9L328.3,1283.9L328.5,1282.9L328.7,1281.9L328.9,1280.9L329.1,1280.0L329.3,1279.0L329.5,1278.0L329.7,1277.0L329.9,1276.0L330.1,1275.0L330.2,1274.1L330.4,1273.1L330.6,1272.1L330.8,1271.1L330.9,1270.1L331.1,1269.1L331.3,1268.2L331.4,1267.2L331.6,1266.2L331.7,1265.2L331.9,1264.2L332.1,1263.2L332.2,1262.2L332.4,1261.2L332.5,1260.3L332.7,1259.3L332.8,1258.3L333.0,1257.3L333.1,1256.3L333.3,1255.3L333.5,1254.3L333.6,1253.3L333.8,1252.3L333.9,1251.4L334.1,1250.4L334.2,1249.4L334.4,1248.4L334.5,1247.4L334.7,1246.4L334.8,1245.4L335.0,1244.4L335.1,1243.5L335.3,1242.5L335.4,1241.5L335.6,1240.5L335.7,1239.5L335.9,1238.5L336.0,1237.5L336.2,1236.5L336.3,1235.5L336.5,1234.6L336.6,1233.6L336.7,1232.6L336.9,1231.6L337.0,1230.6L337.2,1229.6L337.3,1228.6L337.5,1227.6L337.6,1226.6L337.8,1225.6L337.9,1224.7L338.1,1223.7L338.2,1222.7L338.4,1221.7L338.5,1220.7L338.7,1219.7L338.8,1218.7L338.9,1217.7L339.1,1216.7L339.2,1215.8L339.4,1214.8L339.5,1213.8L339.7,1212.8L339.8,1211.8L340.0,1210.8L340.1,1209.8L340.3,1208.8L340.4,1207.8L340.6,1206.9L340.7,1205.9L340.9,1204.9L341.0,1203.9L341.2,1202.9L341.3,1201.9L341.5,1200.9L341.6,1199.9L341.8,1198.9L341.9,1198.0L342.0,1197.0L342.2,1196.0L342.3,1195.0L342.5,1194.0L342.6,1193.0L342.8,1192.0L343.0,1191.0L343.2,1190.1L343.5,1189.1L343.7,1188.2L344.1,1187.2L344.4,1186.4L344.9,1185.6L345.4,1185.1L346.0,1184.9L346.7,1185.0L347.4,1185.4L348.0,1186.0L348.5,1186.7L348.9,1187.6L349.3,1188.5L349.6,1189.5L349.9,1190.4L350.1,1191.4L350.4,1192.3L350.6,1193.3L350.8,1194.3L351.0,1195.3L351.1,1196.3L351.3,1197.3L351.4,1198.2L351.6,1199.2L351.7,1200.2L351.9,1201.2L352.0,1202.2L352.1,1203.2L352.3,1204.2L352.4,1205.2L352.5,1206.2L352.6,1207.2L352.8,1208.2L352.9,1209.2L353.0,1210.1L353.1,1211.1L353.3,1212.1L353.4,1213.1L353.5,1214.1L353.7,1215.1L353.8,1216.1L353.9,1217.1L354.0,1218.1L354.2,1219.1L354.3,1220.1L354.4,1221.1L354.5,1222.1L354.6,1223.0L354.8,1224.0L354.9,1225.0L355.0,1226.0L355.1,1227.0L355.2,1228.0L355.3,1229.0L355.5,1230.0L355.6,1231.0L355.7,1232.0L355.8,1233.0L355.9,1234.0L356.0,1235.0L356.1,1236.0L356.3,1236.9L356.4,1237.9L356.5,1238.9L356.6,1239.9L356.7,1240.9L356.8,1241.9L357.0,1242.9L357.1,1243.9L357.2,1244.9L357.3,1245.9L357.5,1246.9L357.6,1247.9L357.7,1248.9L357.8,1249.9L358.0,1250.8L358.1,1251.8L358.2,1252.8L358.3,1253.8L358.5,1254.8L358.6,1255.8L358.7,1256.8L358.8,1257.8L358.9,1258.8L359.1,1259.8L359.2,1260.8L359.3,1261.8L359.4,1262.8L359.5,1263.8L359.6,1264.7L359.7,1265.7L359.8,1266.7L359.9,1267.7L360.0,1268.7L360.1,1269.7L360.2,1270.7L360.3,1271.7L360.4,1272.7L360.5,1273.7L360.6,1274.7L360.7,1275.7L360.8,1276.7L360.9,1277.7L360.9,1278.7L361.0,1279.7L361.1,1280.7L361.2,1281.7L361.3,1282.7L361.3,1283.7L361.4,1284.7L361.5,1285.7L361.6,1286.7L361.6,1287.7L361.7,1288.7L361.8,1289.7L361.9,1290.6L361.9,1291.6L362.0,1292.6L362.1,1293.6L362.2,1294.6L362.3,1295.6L362.3,1296.6L362.4,1297.6L362.5,1298.6L362.6,1299.6L362.7,1300.6L362.7,1301.6L362.8,1302.6L362.9,1303.6L363.0,1304.6L363.1,1305.6L363.2,1306.6L363.3,1307.6L363.4,1308.6L363.5,1309.6L363.6,1310.6L363.7,1311.6L363.8,1312.6L364.0,1313.5L364.1,1314.5L364.3,1315.5L364.4,1316.5L364.6,1317.5L364.8,1318.5L364.9,1319.5L365.1,1320.5L365.3,1321.4L365.5,1322.4L365.7,1323.4L365.8,1324.4L366.0,1325.4L366.2,1326.4L366.3,1327.3L366.5,1328.3L366.7,1329.3L366.9,1330.3L367.0,1331.3L367.2,1332.3L367.4,1333.3L367.5,1334.2L367.7,1335.2L367.9,1336.2L368.0,1337.2L368.2,1338.2L368.4,1339.2L368.6,1340.2L368.7,1341.1L368.9,1342.1L369.1,1343.1L369.3,1344.1L369.5,1345.1L369.6,1346.1L369.8,1347.0L370.0,1348.0L370.2,1349.0L370.4,1350.0L370.6,1351.0L370.8,1351.9L371.0,1352.9L371.2,1353.9L371.4,1354.9L371.6,1355.9L371.8,1356.8L372.0,1357.8L372.3,1358.8L372.5,1359.8L372.7,1360.7L372.9,1361.7L373.1,1362.7L373.4,1363.7L373.6,1364.6L373.8,1365.6L374.0,1366.6L374.3,1367.6L374.5,1368.5L374.7,1369.5L375.0,1370.5L375.2,1371.4L375.5,1372.4L375.8,1373.4L376.1,1374.3L376.3,1375.3L376.6,1376.2L376.9,1377.2L377.3,1378.1L377.6,1379.1L377.9,1380.0L378.3,1381.0L378.7,1381.9L379.1,1382.8L379.4,1383.7L379.8,1384.6L380.2,1385.6L380.7,1386.5L381.1,1387.4L381.5,1388.3L382.0,1389.2L382.5,1390.0L383.0,1390.9L383.5,1391.7L384.1,1392.6L384.6,1393.4L385.3,1394.2L385.9,1394.9L386.6,1395.7L387.3,1396.4L388.0,1397.0L388.8,1397.7L389.6,1398.3L390.4,1398.9L391.2,1399.5L392.0,1400.0L392.9,1400.5L393.7,1401.0L394.6,1401.5L395.5,1402.0L396.4,1402.4L397.3,1402.8L398.2,1403.2L399.1,1403.6L400.0,1404.0L401.0,1404.4L401.9,1404.8L402.8,1405.1L403.8,1405.4L404.7,1405.7L405.7,1406.0L406.7,1406.2L407.6,1406.5L408.6,1406.7L409.6,1406.9L410.6,1407.1L411.6,1407.3L412.5,1407.4L413.5,1407.6L414.5,1407.7L415.5,1407.9L416.5,1408.0L417.5,1408.1L418.5,1408.2L419.5,1408.3L420.5,1408.4L421.5,1408.5L422.5,1408.5L423.5,1408.6L424.5,1408.7L425.5,1408.7L426.5,1408.8L427.5,1408.8L428.5,1408.9L429.5,1408.9L430.5,1409.0L431.5,1409.0L432.5,1409.0L433.5,1409.1L434.5,1409.1L435.5,1409.1L436.5,1409.1L437.5,1409.1L438.5,1409.2L439.5,1409.2L440.5,1409.2L441.5,1409.2L442.5,1409.2L443.5,1409.2L444.5,1409.2L445.5,1409.2L446.5,1409.2L447.5,1409.3L448.5,1409.3L449.5,1409.3L450.5,1409.3L451.5,1409.3L452.5,1409.3L453.5,1409.3L454.5,1409.3L455.5,1409.3L456.5,1409.3L457.5,1409.3L458.5,1409.3L459.5,1409.3L460.5,1409.3L461.5,1409.3L462.5,1409.3L463.5,1409.3L464.5,1409.3L465.5,1409.3L466.5,1409.3L467.5,1409.4L468.5,1409.4L469.5,1409.4L470.5,1409.4L471.5,1409.4L472.5,1409.4L473.5,1409.4L474.5,1409.4L475.5,1409.4L476.5,1409.4L477.5,1409.5L478.5,1409.5L479.5,1409.5L480.5,1409.5L481.5,1409.5L482.5,1409.5L483.5,1409.6L484.5,1409.6L485.5,1409.6L486.5,1409.6L487.5,1409.6L488.5,1409.6L489.5,1409.6L490.5,1409.7L491.5,1409.7L492.5,1409.7L493.5,1409.7L494.5,1409.7L495.5,1409.7L496.5,1409.7L497.5,1409.8L498.5,1409.8L499.5,1409.8L500.5,1409.8L501.5,1409.8L502.5,1409.8L503.5,1409.8L504.5,1409.8L505.5,1409.9L506.5,1409.9L507.5,1409.9L508.5,1409.9L509.5,1409.9L510.5,1409.9L511.5,1409.9L512.5,1409.9L513.5,1409.9L514.5,1410.0L515.5,1410.0L516.5,1410.0L517.5,1410.0L518.5,1410.0L519.5,1410.0L520.5,1410.0L521.5,1410.0L522.5,1410.0L523.5,1410.0L524.5,1410.1L525.5,1410.1L526.5,1410.1L527.5,1410.1L528.5,1410.1L529.5,1410.1L530.5,1410.1L531.5,1410.1L532.5,1410.1L533.5,1410.1L534.5,1410.1L535.5,1410.2L536.5,1410.2L537.5,1410.2L538.5,1410.2L539.5,1410.2L540.5,1410.2L541.5,1410.2L542.5,1410.2L543.5,1410.2L544.5,1410.2L545.5,1410.2L546.5,1410.2L547.5,1410.3L548.5,1410.3L549.5,1410.3L550.5,1410.3L551.5,1410.3L552.5,1410.3L553.5,1410.3L554.5,1410.3L555.5,1410.3L556.5,1410.3L557.5,1410.3L558.5,1410.3L559.5,1410.3L560.5,1410.4L561.5,1410.4L562.5,1410.4L563.5,1410.4L564.5,1410.4L565.5,1410.4L566.5,1410.4L567.5,1410.4L568.5,1410.4L569.5,1410.4L570.5,1410.4L571.5,1410.4L572.5,1410.4L573.5,1410.5L574.5,1410.5L575.5,1410.5L576.5,1410.5L577.5,1410.5L578.5,1410.5L579.5,1410.5L580.5,1410.5L581.5,1410.5L582.5,1410.5L583.5,1410.5L584.5,1410.5L585.5,1410.5L586.5,1410.5L587.5,1410.5L588.5,1410.6L589.5,1410.6L590.5,1410.6L591.5,1410.6L592.5,1410.6L593.5,1410.6L594.5,1410.6L595.5,1410.6L596.5,1410.6L597.5,1410.6L598.5,1410.6L599.5,1410.6L600.5,1410.6L601.5,1410.6L602.5,1410.6L603.5,1410.6L604.5,1410.7L605.5,1410.7L606.5,1410.7L607.5,1410.7L608.5,1410.7L609.5,1410.7L610.5,1410.7L611.5,1410.7L612.5,1410.7L613.5,1410.7L614.5,1410.7L615.5,1410.7L616.5,1410.7L617.5,1410.7L618.5,1410.7L619.5,1410.7L620.5,1410.8L621.5,1410.8L622.5,1410.8L623.5,1410.8L624.5,1410.8L625.5,1410.8L626.5,1410.8L627.5,1410.8L628.5,1410.8L629.5,1410.8L630.5,1410.8L631.5,1410.8L632.5,1410.8L633.5,1410.8L634.5,1410.8L635.5,1410.8L636.5,1410.8L637.5,1410.9L638.5,1410.9L639.5,1410.9L640.5,1410.9L641.5,1410.9L642.5,1410.9L643.5,1410.9L644.5,1410.9L645.5,1410.9L646.5,1410.9L647.5,1410.9L648.5,1410.9L649.5,1410.9L650.5,1410.9L651.5,1410.9L652.5,1410.9L653.5,1410.9L654.5,1410.9L655.5,1411.0L656.5,1411.0L657.5,1411.0L658.5,1411.0L659.5,1411.0L660.5,1411.0L661.5,1411.0L662.5,1411.0L663.5,1411.0L664.5,1411.0L665.5,1411.0L666.5,1411.0L667.5,1411.0L668.5,1411.0L669.5,1411.0L670.5,1411.0L671.5,1411.0L672.5,1411.1L673.5,1411.1L674.5,1411.1L675.5,1411.1L676.5,1411.1L677.5,1411.1L678.5,1411.1L679.5,1411.1L680.5,1411.1L681.5,1411.1L682.5,1411.1L683.5,1411.1L684.5,1411.1L685.5,1411.1L686.5,1411.1L687.5,1411.1L688.5,1411.1L689.5,1411.2L690.5,1411.2L691.5,1411.2L692.5,1411.2L693.5,1411.2L694.5,1411.2L695.5,1411.2L696.5,1411.2L697.5,1411.2L698.5,1411.2L699.5,1411.2L700.5,1411.2L701.5,1411.2L702.5,1411.2L703.5,1411.2L704.5,1411.2L705.5,1411.2L706.5,1411.3L707.5,1411.3L708.5,1411.3L709.5,1411.3L710.5,1411.3L711.5,1411.3L712.5,1411.3L713.5,1411.3L714.5,1411.3L715.5,1411.3L716.5,1411.3L717.5,1411.3L718.5,1411.3L719.5,1411.3L720.5,1411.3L721.5,1411.3L722.5,1411.4L723.5,1411.4L724.5,1411.4L725.5,1411.4L726.5,1411.4L727.5,1411.4L728.5,1411.4L729.5,1411.4L730.5,1411.4L731.5,1411.4L732.5,1411.4L733.5,1411.4L734.5,1411.4L735.5,1411.4L736.5,1411.4L737.5,1411.5L738.5,1411.5L739.5,1411.5L740.5,1411.5L741.5,1411.5L742.5,1411.5L743.5,1411.5L744.5,1411.5L745.5,1411.5L746.5,1411.5L747.5,1411.5L748.5,1411.5L749.5,1411.5L750.5,1411.5L751.5,1411.6L752.5,1411.6L753.4,1411.6L754.4,1411.6L755.4,1411.6L756.2,1411.6L756.9,1411.6L758.0,1411.6" fill="none" stroke="#b54a4e" stroke-width="4.3" stroke-linejoin="round" stroke-linecap="round"/>
</g></svg></body></html>
